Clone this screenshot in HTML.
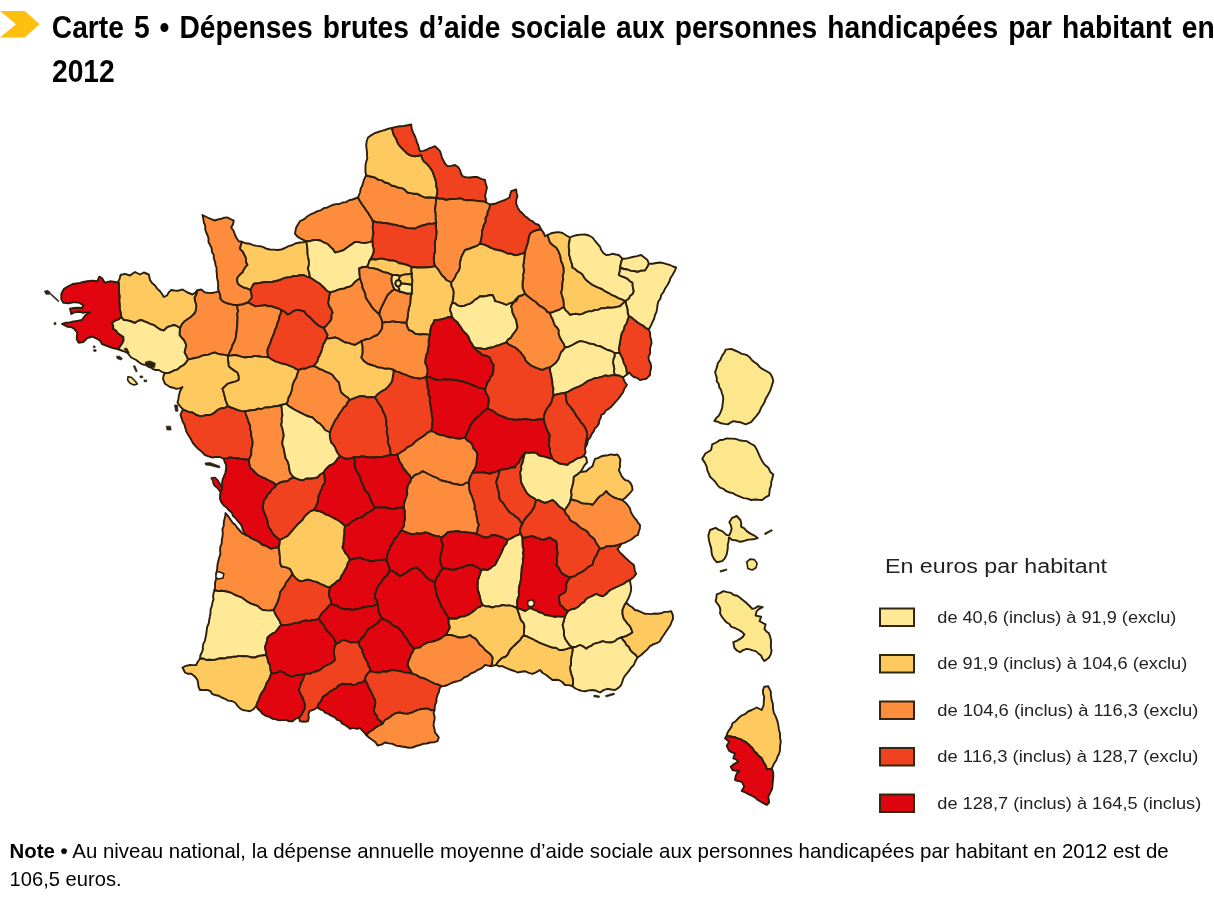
<!DOCTYPE html>
<html lang="fr"><head><meta charset="utf-8"><title>Carte 5</title>
<style>
html,body{margin:0;padding:0;background:#fff;}
body{width:1214px;height:900px;overflow:hidden;font-family:"Liberation Sans",sans-serif;}
svg{display:block;}
.t{font-family:"Liberation Sans",sans-serif;font-weight:bold;font-size:31px;fill:#000;word-spacing:2.4px;}
.n{font-family:"Liberation Sans",sans-serif;font-size:20.4px;fill:#000;}
.lg{font-family:"Liberation Sans",sans-serif;font-size:16.3px;fill:#222;}
.lt{font-family:"Liberation Sans",sans-serif;font-size:19.5px;fill:#222;}
</style></head><body>
<svg width="1214" height="900" viewBox="0 0 1214 900">
<rect width="1214" height="900" fill="#fff"/>
<polygon points="0,11 24.7,11 39.5,24.2 24.7,37.5 0,37.5 16,24.2" fill="#fdc010"/>
<text class="t" transform="translate(51.8,38.3) scale(0.91,1)">Carte 5 • Dépenses brutes d’aide sociale aux personnes handicapées par habitant en</text>
<text class="t" transform="translate(52,82) scale(0.91,1)">2012</text>
<text class="n" x="9.6" y="857.5" textLength="1159" lengthAdjust="spacingAndGlyphs"><tspan font-weight="bold">Note •</tspan> Au niveau national, la dépense annuelle moyenne d’aide sociale aux personnes handicapées par habitant en 2012 est de</text>
<text class="n" x="9.6" y="886" textLength="112" lengthAdjust="spacingAndGlyphs">106,5 euros.</text>
<g id="map" stroke="#2a1f0c" stroke-width="1.9" stroke-linejoin="round">
<path d="M218.8,291.2 215.6,292.2 212.5,293.0 208.7,292.9 205.0,292.5 201.2,289.5 197.0,290.5 196.4,294.2 194.5,297.5 195.0,301.3 196.2,305.0 196.1,308.8 195.0,312.5 192.6,315.1 190.0,317.5 187.2,319.2 184.5,321.2 181.7,324.3 180.0,328.0 179.7,331.5 179.5,335.0 181.5,337.6 183.8,340.0 185.1,342.7 186.2,345.5 185.2,349.0 184.5,352.5 186.4,355.9 188.0,359.5 191.5,358.8 195.0,358.0 198.5,357.4 201.6,355.8 205.0,355.0 208.5,354.7 211.7,353.4 215.0,352.5 218.0,353.9 221.2,354.5 224.7,354.9 228.0,355.8 229.7,352.3 231.5,348.8 232.5,345.0 234.3,341.9 235.6,338.6 236.2,335.0 236.5,332.0 236.9,329.0 237.2,326.0 237.3,323.0 237.5,320.0 237.7,317.0 237.1,314.0 238.2,311.0 237.3,308.0 237.5,305.0 233.6,304.9 230.0,303.9 226.2,303.0 223.0,301.4 220.5,298.8 220.2,294.9Z" fill="#fd8d3c"/>
<path d="M197.0,290.5 195.1,292.9 192.5,294.5 187.5,292.5 182.5,289.5 177.5,290.8 174.4,290.5 171.2,290.0 168.7,292.4 167.0,295.5 163.8,297.0 162.0,294.0 160.0,291.2 157.2,288.6 155.0,285.5 152.1,283.1 150.0,280.0 148.8,274.5 143.8,272.5 140.0,274.5 135.0,272.0 132.4,273.7 130.0,275.5 125.0,273.8 120.5,275.0 119.6,278.9 117.8,282.5 118.7,282.7 119.0,286.3 119.1,290.0 119.1,293.4 119.6,296.7 119.2,300.7 119.6,304.7 119.7,308.7 120.7,312.7 121.3,317.2 121.4,317.3 123.8,320.0 126.9,320.4 130.0,321.0 135.0,323.0 137.9,321.0 141.2,320.0 144.3,321.3 147.5,322.5 150.5,324.2 153.8,325.0 156.8,327.3 160.0,329.5 163.8,330.5 167.5,327.0 170.7,326.1 173.8,325.0 177.0,326.2 180.0,328.0 181.7,324.3 184.5,321.2 187.2,319.2 190.0,317.5 192.6,315.1 195.0,312.5 196.1,308.8 196.2,305.0 195.0,301.3 194.5,297.5 196.4,294.2Z" fill="#feca60"/>
<path d="M118.7,282.7 117.8,282.5 115.3,282.0 110.0,281.3 104.7,282.7 102.0,278.0 99.3,276.7 97.3,281.3 92.7,280.7 87.3,281.3 83.3,282.0 78.0,283.3 72.7,284.0 68.7,286.0 64.0,288.7 61.3,294.0 61.3,299.3 63.3,302.7 68.7,303.3 74.0,302.0 79.3,302.7 83.3,305.3 82.0,308.0 78.0,307.7 74.0,308.0 70.0,308.7 71.3,314.0 75.3,312.0 79.4,311.8 83.3,312.7 86.7,312.1 90.0,312.7 87.1,314.0 84.7,316.0 82.0,320.0 78.7,320.6 75.3,321.3 72.0,321.8 68.7,322.7 65.2,322.8 62.0,324.0 67.3,326.7 70.9,327.0 74.0,328.7 77.3,332.7 76.9,336.0 76.7,339.3 78.7,342.7 83.3,342.0 87.3,338.0 92.7,336.7 98.0,339.3 100.5,341.3 102.0,344.0 107.3,346.0 112.7,348.0 118.3,349.3 118.3,349.3 120.4,346.0 122.2,343.5 123.6,340.7 123.3,336.7 120.6,335.1 118.0,333.3 116.0,330.6 113.3,328.7 113.2,325.5 112.0,322.7 115.3,320.7 118.6,319.4 121.3,317.3 121.3,317.2 120.7,312.7 119.7,308.7 119.6,304.7 119.2,300.7 119.6,296.7 119.1,293.4 119.1,290.0 119.0,286.3Z" fill="#e0050f"/>
<path d="M118.3,349.3 118.8,349.5 123.0,351.0 127.5,353.0 131.2,357.5 136.2,360.0 138.7,362.0 141.2,363.8 144.3,364.8 147.5,365.0 150.2,366.6 152.5,368.8 155.5,370.0 158.8,370.0 161.7,371.8 165.0,373.0 168.2,373.1 171.2,372.0 174.2,370.4 177.5,369.5 180.4,366.9 183.8,365.0 186.2,362.5 188.0,359.5 186.4,355.9 184.5,352.5 185.2,349.0 186.2,345.5 185.1,342.7 183.8,340.0 181.5,337.6 179.5,335.0 179.7,331.5 180.0,328.0 177.0,326.2 173.8,325.0 170.7,326.1 167.5,327.0 163.8,330.5 160.0,329.5 156.8,327.3 153.8,325.0 150.5,324.2 147.5,322.5 144.3,321.3 141.2,320.0 137.9,321.0 135.0,323.0 130.0,321.0 126.9,320.4 123.8,320.0 121.4,317.3 121.3,317.3 118.6,319.4 115.3,320.7 112.0,322.7 113.2,325.5 113.3,328.7 116.0,330.6 118.0,333.3 120.6,335.1 123.3,336.7 123.6,340.7 122.2,343.5 120.4,346.0Z" fill="#ffe996"/>
<path d="M165.0,373.0 163.5,375.7 163.0,378.8 165.0,383.8 170.0,387.0 173.2,387.7 176.2,388.8 179.5,388.4 182.5,387.0 180.0,391.2 178.8,396.2 178.3,399.4 177.5,402.5 180.0,406.2 183.0,409.5 186.0,410.9 189.2,412.1 192.5,412.5 196.0,414.9 200.0,416.2 203.3,415.9 206.6,415.0 210.0,415.0 212.8,413.8 215.3,412.1 217.5,410.0 220.9,408.4 224.7,408.0 228.0,406.2 226.9,403.4 225.7,400.5 225.0,397.5 224.2,394.6 223.5,391.6 222.5,388.8 225.1,386.3 227.5,383.8 231.3,382.6 235.1,381.6 238.8,380.0 238.8,376.1 237.5,372.5 234.5,370.6 231.5,368.5 228.8,366.2 228.6,362.7 227.9,359.3 228.0,355.8 224.7,354.9 221.2,354.5 218.0,353.9 215.0,352.5 211.7,353.4 208.5,354.7 205.0,355.0 201.6,355.8 198.5,357.4 195.0,358.0 191.5,358.8 188.0,359.5 186.2,362.5 183.8,365.0 180.4,366.9 177.5,369.5 174.2,370.4 171.2,372.0 168.2,373.1Z" fill="#feca60"/>
<path d="M183.0,409.5 181.6,412.2 180.5,415.0 181.6,418.1 182.5,421.2 184.5,424.8 185.5,428.8 186.5,431.9 188.1,434.8 190.0,437.5 191.5,440.3 192.9,443.1 195.0,445.5 197.9,448.6 201.2,451.2 205.0,455.0 208.7,456.4 212.5,457.5 216.2,456.9 220.0,457.0 223.8,458.8 226.9,458.4 230.0,457.5 233.3,458.0 236.7,458.3 240.0,458.8 244.4,459.2 248.8,460.0 251.2,455.0 251.3,451.6 251.6,448.3 252.5,445.0 252.7,441.8 252.1,438.7 251.2,435.7 251.2,432.5 250.2,429.2 250.2,425.7 248.8,422.5 247.6,418.7 246.2,415.0 245.0,411.2 241.2,410.9 237.5,410.0 234.4,408.7 231.2,407.5 228.0,406.2 224.7,408.0 220.9,408.4 217.5,410.0 215.3,412.1 212.8,413.8 210.0,415.0 206.6,415.0 203.3,415.9 200.0,416.2 196.0,414.9 192.5,412.5 189.2,412.1 186.0,410.9Z" fill="#f0421f"/>
<path d="M242.0,241.8 238.8,241.2 236.7,238.3 235.0,235.0 233.7,231.0 231.2,227.5 233.0,224.2 233.8,220.5 230.6,219.1 227.5,217.5 224.3,217.6 221.2,218.8 218.1,219.4 215.0,220.5 211.2,219.2 207.5,217.5 202.5,215.0 203.3,218.7 203.8,222.5 205.2,225.7 205.2,229.2 206.2,232.5 207.6,235.5 208.5,238.6 208.5,242.1 210.0,245.0 211.6,248.2 211.9,251.9 213.8,255.0 213.8,258.4 215.0,261.6 215.5,265.0 216.6,268.0 216.5,271.2 216.9,274.3 217.0,277.5 217.8,281.2 218.2,285.0 218.0,288.8 218.8,291.2 220.2,294.9 220.5,298.8 223.0,301.4 226.2,303.0 230.0,303.9 233.6,304.9 237.5,305.0 242.5,304.5 248.0,302.5 250.0,300.0 252.0,297.5 251.5,293.7 250.5,290.0 247.3,288.4 243.8,287.5 240.7,285.9 238.0,283.8 237.1,280.7 237.5,277.5 239.8,274.8 242.5,272.5 243.8,269.8 245.4,267.2 247.5,265.0 246.0,261.8 246.0,258.2 244.5,255.0 242.7,251.5 240.0,248.8 240.8,245.2Z" fill="#fd8d3c"/>
<path d="M306.2,241.2 303.2,242.4 300.0,242.5 296.1,243.2 292.5,245.0 288.6,246.1 285.0,248.0 281.4,249.5 277.5,250.0 273.8,249.6 270.0,249.5 266.5,248.8 263.4,247.1 260.0,246.2 256.6,245.9 253.2,245.1 250.0,243.8 245.9,243.3 242.0,241.8 240.8,245.2 240.0,248.8 242.7,251.5 244.5,255.0 246.0,258.2 246.0,261.8 247.5,265.0 245.4,267.2 243.8,269.8 242.5,272.5 239.8,274.8 237.5,277.5 237.1,280.7 238.0,283.8 240.7,285.9 243.8,287.5 247.3,288.4 250.5,290.0 252.1,286.9 253.8,283.8 258.2,283.3 262.5,282.5 265.6,282.0 268.8,282.1 271.9,282.0 275.0,281.2 278.2,280.5 281.3,279.5 284.3,278.0 287.5,277.5 290.7,277.1 293.7,276.0 297.0,276.1 300.0,275.0 303.5,275.2 306.7,276.6 310.0,277.5 309.3,273.1 308.0,268.8 309.0,264.4 308.8,260.0 308.0,256.7 307.5,253.4 307.5,250.0 307.1,245.6Z" fill="#feca60"/>
<path d="M358.0,197.5 352.5,199.5 349.1,200.2 346.0,202.1 342.5,202.5 339.5,204.0 336.2,204.1 333.0,204.8 330.0,206.2 326.9,207.6 323.6,208.3 320.7,210.3 317.5,211.2 314.2,212.9 310.7,214.3 307.5,216.2 305.3,218.4 302.7,219.9 300.0,221.2 298.1,224.3 296.2,227.5 295.5,230.6 295.0,233.8 298.0,237.0 301.2,238.8 305.9,241.1 306.2,241.1 310.0,241.2 313.7,240.0 317.5,240.0 321.0,240.7 324.1,242.7 327.5,243.8 330.1,246.6 332.9,249.2 335.0,252.5 338.0,251.9 340.9,251.1 343.8,250.0 346.5,247.9 349.3,245.9 352.2,244.1 355.0,242.0 358.4,242.1 361.6,242.9 365.0,243.0 368.8,242.4 372.5,241.2 372.6,237.5 373.5,233.8 373.0,230.0 372.7,226.8 373.3,223.6 372.5,220.5 371.2,217.7 369.5,215.2 368.0,212.5 366.0,210.1 364.4,207.4 362.5,205.0 360.1,201.3Z" fill="#fd8d3c"/>
<path d="M366.2,175.5 365.0,177.5 363.5,181.2 362.5,185.0 360.7,188.6 360.0,192.5 358.0,197.5 360.1,201.3 362.5,205.0 364.4,207.4 366.0,210.1 368.0,212.5 369.5,215.2 371.2,217.7 372.5,220.5 376.1,222.2 380.0,222.5 383.1,223.0 386.3,223.2 389.4,223.8 392.5,224.5 395.7,224.9 398.8,225.9 402.0,226.3 405.0,227.5 408.3,228.4 411.7,228.4 415.0,228.8 418.1,227.0 421.5,225.8 425.0,225.0 428.6,223.6 432.6,223.9 436.2,222.5 435.7,219.4 435.8,216.2 435.7,213.1 435.0,210.0 435.4,207.0 435.8,204.0 436.1,201.0 436.2,198.0 432.5,197.5 428.8,197.3 425.0,197.5 421.2,195.8 417.5,193.8 414.1,193.8 410.8,193.1 407.5,192.5 403.8,188.8 400.8,187.9 397.8,187.5 395.0,186.2 391.5,185.5 388.5,183.3 385.0,182.5 381.9,180.4 378.1,179.6 375.0,177.5 370.6,176.5Z" fill="#fd8d3c"/>
<path d="M392.0,128.0 388.4,128.7 385.0,130.0 381.6,130.9 378.3,132.0 375.0,133.0 371.4,135.1 368.0,137.5 366.7,141.2 366.2,145.0 366.5,148.3 366.9,151.7 367.0,155.0 367.3,158.2 366.4,161.3 365.6,164.3 365.5,167.5 365.4,171.5 366.2,175.5 370.6,176.5 375.0,177.5 378.1,179.6 381.9,180.4 385.0,182.5 388.5,183.3 391.5,185.5 395.0,186.2 397.8,187.5 400.8,187.9 403.8,188.8 407.5,192.5 410.8,193.1 414.1,193.8 417.5,193.8 421.2,195.8 425.0,197.5 428.8,197.3 432.5,197.5 436.2,198.0 437.1,194.0 437.5,190.0 436.2,186.4 436.2,182.5 435.1,178.7 433.8,175.0 432.3,171.0 430.0,167.5 427.2,164.1 423.8,161.2 422.1,158.3 421.2,155.0 418.1,155.7 415.0,156.2 411.1,155.6 407.5,153.8 405.0,151.3 402.5,148.8 399.7,145.9 397.5,142.5 396.1,138.5 393.8,135.0 392.8,131.5Z" fill="#feca60"/>
<path d="M486.2,202.5 486.1,199.3 485.0,196.2 486.0,191.9 487.0,187.5 485.7,183.8 485.0,180.0 481.1,178.9 477.5,177.0 473.7,177.0 470.0,177.5 466.2,177.4 462.5,176.2 460.9,173.3 460.0,170.0 458.0,167.0 455.0,165.0 451.3,165.9 447.5,166.2 445.3,164.0 443.8,161.2 442.0,158.1 441.2,154.6 440.0,151.2 437.6,148.6 435.0,146.2 432.0,147.4 429.0,148.4 426.2,150.0 423.2,150.9 420.0,151.2 418.9,148.4 418.3,145.3 417.0,142.5 416.0,139.0 414.7,135.7 413.0,132.5 411.7,128.6 411.2,124.5 407.5,125.3 403.8,126.0 400.0,126.2 396.0,126.9 392.0,128.0 392.8,131.5 393.8,135.0 396.1,138.5 397.5,142.5 399.7,145.9 402.5,148.8 405.0,151.3 407.5,153.8 411.1,155.6 415.0,156.2 418.1,155.7 421.2,155.0 422.1,158.3 423.8,161.2 427.2,164.1 430.0,167.5 432.3,171.0 433.8,175.0 435.1,178.7 436.2,182.5 436.2,186.4 437.5,190.0 437.1,194.0 436.2,198.0 439.6,198.7 443.0,198.8 446.2,200.0 449.9,199.1 453.7,199.0 457.5,198.8 460.7,198.4 463.7,199.9 466.8,200.3 470.0,200.0 473.3,200.4 476.7,200.9 480.0,201.2 483.2,201.4Z" fill="#f0421f"/>
<path d="M486.2,202.5 483.2,201.4 480.0,201.2 476.7,200.9 473.3,200.4 470.0,200.0 466.8,200.3 463.7,199.9 460.7,198.4 457.5,198.8 453.7,199.0 449.9,199.1 446.2,200.0 443.0,198.8 439.6,198.7 436.2,198.0 436.1,201.0 435.8,204.0 435.4,207.0 435.0,210.0 435.7,213.1 435.8,216.2 435.7,219.4 436.2,222.5 435.8,225.6 436.1,228.8 436.5,231.9 436.2,235.0 436.1,238.1 435.0,241.2 434.8,244.3 435.0,247.5 435.1,250.9 434.2,254.2 433.8,257.5 433.9,261.9 435.0,266.2 437.9,269.1 440.0,272.5 441.8,275.3 444.3,277.4 446.2,280.0 451.3,282.5 453.3,280.1 455.0,277.5 456.4,274.0 458.7,271.0 460.0,267.5 459.8,264.1 460.5,260.8 461.2,257.5 463.0,253.7 465.0,250.0 468.8,249.0 472.5,247.5 476.5,246.2 480.0,243.8 481.2,239.4 482.0,235.0 481.9,231.5 483.1,228.3 483.8,225.0 485.7,221.9 485.6,218.1 487.5,215.0 487.8,211.4 489.6,208.1 490.0,204.5Z" fill="#fd8d3c"/>
<path d="M436.2,222.5 432.6,223.9 428.6,223.6 425.0,225.0 421.5,225.8 418.1,227.0 415.0,228.8 411.7,228.4 408.3,228.4 405.0,227.5 402.0,226.3 398.8,225.9 395.7,224.9 392.5,224.5 389.4,223.8 386.3,223.2 383.1,223.0 380.0,222.5 376.1,222.2 372.5,220.5 373.3,223.6 372.7,226.8 373.0,230.0 373.5,233.8 372.6,237.5 372.5,241.2 372.7,245.7 373.8,250.0 373.2,253.2 372.0,256.2 369.5,260.5 372.5,259.2 376.1,259.7 379.7,258.7 383.2,258.8 386.3,259.7 389.3,260.5 392.5,260.5 396.0,261.2 399.0,263.2 402.5,263.8 405.7,264.5 408.7,265.7 411.7,267.2 411.7,267.2 415.1,267.2 418.4,267.7 421.7,267.4 425.0,267.5 428.3,267.2 431.7,267.0 435.0,266.2 433.9,261.9 433.8,257.5 434.2,254.2 435.1,250.9 435.0,247.5 434.8,244.3 435.0,241.2 436.1,238.1 436.2,235.0 436.5,231.9 436.1,228.8 435.8,225.6Z" fill="#f0421f"/>
<path d="M372.5,241.2 368.8,242.4 365.0,243.0 361.6,242.9 358.4,242.1 355.0,242.0 352.2,244.1 349.3,245.9 346.5,247.9 343.8,250.0 340.9,251.1 338.0,251.9 335.0,252.5 332.9,249.2 330.1,246.6 327.5,243.8 324.1,242.7 321.0,240.7 317.5,240.0 313.7,240.0 310.0,241.2 306.2,241.1 306.2,241.2 307.1,245.6 307.5,250.0 307.5,253.4 308.0,256.7 308.8,260.0 309.0,264.4 308.0,268.8 309.3,273.1 310.0,277.5 313.8,280.0 316.8,282.0 320.0,283.8 322.4,286.3 325.0,288.8 327.2,291.1 330.0,292.5 335.0,291.2 337.8,289.9 340.7,289.0 343.8,288.8 346.6,287.3 349.8,286.7 352.5,285.0 354.6,282.3 357.2,280.2 360.0,278.3 360.0,278.3 359.6,274.2 359.2,268.5 363.0,267.0 367.1,266.7 368.6,263.7 369.5,260.5 372.0,256.2 373.2,253.2 373.8,250.0 372.7,245.7Z" fill="#ffe996"/>
<path d="M411.7,267.2 408.7,265.7 405.7,264.5 402.5,263.8 399.0,263.2 396.0,261.2 392.5,260.5 389.3,260.5 386.3,259.7 383.2,258.8 379.7,258.7 376.1,259.7 372.5,259.2 369.5,260.5 368.6,263.7 367.1,266.7 369.2,267.9 373.4,268.4 377.5,269.3 380.4,270.7 383.4,272.1 386.7,272.7 389.6,273.8 392.5,275.0 396.3,275.0 400.0,276.0 400.0,276.0 404.0,274.6 408.3,274.3 411.8,273.3 411.3,270.3 411.7,267.2Z" fill="#feca60"/>
<path d="M411.7,267.2 411.7,267.2 411.3,270.3 411.8,273.3 411.5,276.7 412.3,280.0 412.1,283.3 412.0,285.0 411.9,289.2 411.8,293.3 410.6,296.6 410.4,300.0 410.1,304.3 408.8,308.3 408.1,312.5 407.7,316.7 407.2,319.6 406.2,322.5 407.1,326.4 408.8,330.0 412.2,331.3 415.0,333.8 420.0,334.5 423.4,334.3 426.7,334.4 430.0,335.0 430.4,330.6 431.2,326.2 433.3,323.3 434.5,320.0 437.6,320.0 440.7,319.5 443.8,318.8 447.7,317.3 452.0,317.0 451.4,313.4 450.0,310.0 450.9,306.1 452.5,302.5 453.1,299.2 453.5,295.9 453.8,292.5 453.2,289.1 451.5,286.0 451.3,282.5 446.2,280.0 444.3,277.4 441.8,275.3 440.0,272.5 437.9,269.1 435.0,266.2 431.7,267.0 428.3,267.2 425.0,267.5 421.7,267.4 418.4,267.7 415.1,267.2Z" fill="#feca60"/>
<path d="M360.0,278.3 357.2,280.2 354.6,282.3 352.5,285.0 349.8,286.7 346.6,287.3 343.8,288.8 340.7,289.0 337.8,289.9 335.0,291.2 330.0,292.5 329.2,295.8 328.7,299.2 328.0,302.5 329.0,306.1 331.1,309.1 332.5,312.5 331.2,315.3 331.4,318.5 330.0,321.2 328.0,323.5 326.0,325.9 323.8,328.0 325.5,331.5 327.5,335.0 326.2,338.8 330.6,338.3 335.0,337.5 338.6,338.6 341.8,340.6 345.0,342.5 348.4,342.9 351.7,344.1 355.0,345.0 358.2,343.2 361.2,341.2 364.1,340.1 366.9,339.0 370.0,338.8 373.6,336.5 377.5,335.0 379.9,332.0 382.0,328.8 382.3,325.6 382.5,322.5 381.2,318.3 379.2,314.2 376.6,311.7 373.9,309.4 371.7,306.7 369.9,303.5 367.7,300.6 365.8,297.5 365.4,293.9 364.0,290.7 362.5,287.5 362.2,284.3 361.0,281.3 360.0,278.3Z" fill="#fd8d3c"/>
<path d="M330.0,292.5 327.2,291.1 325.0,288.8 322.4,286.3 320.0,283.8 316.8,282.0 313.8,280.0 310.0,277.5 306.7,276.6 303.5,275.2 300.0,275.0 297.0,276.1 293.7,276.0 290.7,277.1 287.5,277.5 284.3,278.0 281.3,279.5 278.2,280.5 275.0,281.2 271.9,282.0 268.8,282.1 265.6,282.0 262.5,282.5 258.2,283.3 253.8,283.8 252.1,286.9 250.5,290.0 251.5,293.7 252.0,297.5 250.0,300.0 248.0,302.5 251.5,304.3 255.0,306.2 258.3,305.9 261.7,305.8 265.0,305.0 268.2,306.3 271.8,306.3 275.0,307.5 278.2,308.5 281.2,310.0 284.7,311.8 287.5,314.5 290.6,313.3 293.2,311.3 296.2,310.0 300.0,310.4 303.8,311.2 306.5,314.7 310.0,317.5 313.0,320.7 316.2,323.8 319.7,326.4 323.8,328.0 326.0,325.9 328.0,323.5 330.0,321.2 331.4,318.5 331.2,315.3 332.5,312.5 331.1,309.1 329.0,306.1 328.0,302.5 328.7,299.2 329.2,295.8Z" fill="#f0421f"/>
<path d="M248.0,302.5 242.5,304.5 237.5,305.0 237.3,308.0 238.2,311.0 237.1,314.0 237.7,317.0 237.5,320.0 237.3,323.0 237.2,326.0 236.9,329.0 236.5,332.0 236.2,335.0 235.6,338.6 234.3,341.9 232.5,345.0 231.5,348.8 229.7,352.3 228.0,355.8 231.5,355.5 235.0,355.0 238.4,355.7 241.6,356.9 245.0,357.5 248.1,357.0 251.3,357.1 254.3,355.9 257.5,356.2 261.2,356.7 265.0,356.9 268.8,357.5 267.6,353.8 267.5,350.0 268.7,346.7 270.3,343.4 271.2,340.0 272.7,336.7 274.0,333.4 275.0,330.0 276.5,326.8 277.4,323.3 278.8,320.0 279.4,316.6 280.8,313.4 281.2,310.0 278.2,308.5 275.0,307.5 271.8,306.3 268.2,306.3 265.0,305.0 261.7,305.8 258.3,305.9 255.0,306.2 251.5,304.3Z" fill="#fd8d3c"/>
<path d="M541.2,229.5 538.8,225.0 535.3,223.7 532.5,221.2 529.7,220.0 527.5,217.9 525.0,216.2 522.7,213.5 520.0,211.2 517.7,207.7 516.2,203.8 516.2,199.9 517.5,196.2 516.6,192.9 516.2,189.5 511.2,191.2 510.2,194.3 509.5,197.5 505.0,200.0 501.6,201.1 498.3,202.3 495.0,203.8 490.0,204.5 489.6,208.1 487.8,211.4 487.5,215.0 485.6,218.1 485.7,221.9 483.8,225.0 483.1,228.3 481.9,231.5 482.0,235.0 481.2,239.4 480.0,243.8 483.9,244.6 487.5,246.2 490.7,247.9 494.0,249.2 497.5,250.0 501.0,250.7 504.4,252.0 507.5,253.8 510.9,253.6 514.1,255.2 517.5,255.0 521.3,253.8 525.0,252.5 525.9,249.1 527.0,245.8 528.0,242.5 528.8,238.1 530.0,233.8 533.4,231.3 537.5,230.0Z" fill="#f0421f"/>
<path d="M547.5,235.0 545.0,236.2 543.5,232.6 541.2,229.5 537.5,230.0 533.4,231.3 530.0,233.8 528.8,238.1 528.0,242.5 527.0,245.8 525.9,249.1 525.0,252.5 524.4,255.8 524.2,259.2 523.8,262.5 523.1,265.6 523.8,268.8 523.8,271.9 523.0,275.0 523.3,278.4 522.6,281.7 522.5,285.0 522.7,288.1 523.8,290.9 525.0,293.8 527.4,296.0 529.9,298.0 532.5,300.0 535.3,301.7 537.6,304.0 540.0,306.2 542.8,307.4 545.2,309.3 547.1,311.9 550.0,313.0 553.0,312.2 555.8,310.9 558.8,310.0 563.8,307.0 563.8,302.5 563.2,299.1 562.1,295.8 561.2,292.5 562.1,289.2 562.3,285.9 562.5,282.5 563.2,279.2 562.8,275.8 563.8,272.5 563.7,268.0 562.5,263.8 561.0,261.0 560.7,258.0 560.0,255.0 558.4,251.1 556.2,247.5 553.0,245.2 550.0,242.5 548.8,238.7Z" fill="#fd8d3c"/>
<path d="M570.0,237.5 567.5,236.2 562.5,233.0 558.8,232.1 555.0,232.5 551.1,233.3 547.5,235.0 548.8,238.7 550.0,242.5 553.0,245.2 556.2,247.5 558.4,251.1 560.0,255.0 560.7,258.0 561.0,261.0 562.5,263.8 563.7,268.0 563.8,272.5 562.8,275.8 563.2,279.2 562.5,282.5 562.3,285.9 562.1,289.2 561.2,292.5 562.1,295.8 563.2,299.1 563.8,302.5 563.8,307.0 565.3,310.1 567.9,312.4 570.0,315.0 573.1,314.1 576.2,313.8 579.4,314.6 582.5,313.8 585.5,312.3 588.6,311.4 592.0,311.2 595.0,310.0 598.2,309.9 601.1,308.2 604.4,308.4 607.5,307.5 610.7,307.7 613.8,307.5 616.9,306.9 620.0,306.2 622.7,303.6 625.5,301.0 622.0,299.4 618.4,298.1 615.0,296.2 611.5,294.8 608.4,292.8 605.0,291.2 602.0,289.0 598.5,287.7 595.0,286.2 591.9,284.4 589.0,282.3 586.2,280.0 584.2,277.5 582.6,274.6 580.0,272.5 577.3,271.1 575.1,269.0 572.5,267.5 572.0,264.1 570.8,260.8 570.0,257.5 569.0,254.2 569.3,250.8 568.8,247.5 568.9,244.1 569.6,240.8Z" fill="#feca60"/>
<path d="M622.5,258.8 618.8,255.0 615.6,254.5 612.5,253.8 609.4,254.7 606.2,255.0 603.3,252.9 601.2,250.0 599.9,246.5 597.5,243.8 594.9,240.7 592.5,237.5 588.9,235.5 585.0,234.5 581.2,234.6 577.5,235.0 573.6,235.9 570.0,237.5 569.6,240.8 568.9,244.1 568.8,247.5 569.3,250.8 569.0,254.2 570.0,257.5 570.8,260.8 572.0,264.1 572.5,267.5 575.1,269.0 577.3,271.1 580.0,272.5 582.6,274.6 584.2,277.5 586.2,280.0 589.0,282.3 591.9,284.4 595.0,286.2 598.5,287.7 602.0,289.0 605.0,291.2 608.4,292.8 611.5,294.8 615.0,296.2 618.4,298.1 622.0,299.4 625.5,301.0 628.8,298.8 630.1,296.1 632.7,294.1 633.8,291.2 632.8,286.9 632.5,282.5 629.8,281.2 627.7,278.9 625.0,277.5 621.8,276.4 618.8,275.0 619.8,271.3 620.0,267.5 620.7,264.5 621.3,261.6Z" fill="#ffe996"/>
<path d="M648.8,263.8 647.5,260.0 644.3,257.6 641.2,255.0 636.9,256.1 632.5,257.0 629.2,257.8 625.9,258.6 622.5,258.8 621.3,261.6 620.7,264.5 620.0,267.5 623.6,269.0 627.5,269.5 630.7,270.9 634.2,271.0 637.5,272.0 641.1,270.7 645.0,270.5 647.2,267.3Z" fill="#ffe996"/>
<path d="M648.8,329.5 651.2,325.0 652.7,321.7 654.2,318.5 655.0,315.0 656.5,311.8 657.1,308.4 657.5,305.0 658.3,301.5 660.5,298.5 661.2,295.0 663.6,291.9 665.3,288.2 667.5,285.0 669.3,281.7 670.5,278.1 672.5,275.0 674.6,271.3 676.2,267.5 673.0,266.5 670.0,265.0 666.7,264.2 663.4,263.1 660.0,262.5 656.3,263.0 652.5,263.7 648.8,263.8 647.2,267.3 645.0,270.5 641.1,270.7 637.5,272.0 634.2,271.0 630.7,270.9 627.5,269.5 623.6,269.0 620.0,267.5 619.8,271.3 618.8,275.0 621.8,276.4 625.0,277.5 627.7,278.9 629.8,281.2 632.5,282.5 632.8,286.9 633.8,291.2 632.7,294.1 630.1,296.1 628.8,298.8 625.5,301.0 625.9,304.1 627.0,307.0 627.5,310.0 627.7,313.2 628.8,316.2 632.0,317.9 634.7,320.2 637.5,322.5 640.3,324.3 643.2,325.8 645.7,328.2Z" fill="#ffe996"/>
<path d="M650.0,375.0 650.3,371.2 651.2,367.5 650.6,363.5 648.8,360.0 648.5,356.6 650.2,353.4 650.0,350.0 650.4,346.7 651.5,343.4 651.2,340.0 650.2,336.6 650.1,332.9 648.8,329.5 645.7,328.2 643.2,325.8 640.3,324.3 637.5,322.5 634.7,320.2 632.0,317.9 628.8,316.2 627.6,319.7 626.6,323.2 624.5,326.2 623.6,330.1 621.5,333.6 620.8,337.5 620.1,341.3 619.5,345.0 618.8,348.8 619.5,353.0 621.4,356.4 623.0,360.0 623.6,363.1 625.3,365.8 626.2,368.8 627.0,374.4 629.5,372.5 631.3,375.0 633.8,377.0 637.2,377.9 640.0,380.0 643.1,379.4 646.2,378.8Z" fill="#f0421f"/>
<path d="M525.0,252.5 521.3,253.8 517.5,255.0 514.1,255.2 510.9,253.6 507.5,253.8 504.4,252.0 501.0,250.7 497.5,250.0 494.0,249.2 490.7,247.9 487.5,246.2 483.9,244.6 480.0,243.8 476.5,246.2 472.5,247.5 468.8,249.0 465.0,250.0 463.0,253.7 461.2,257.5 460.5,260.8 459.8,264.1 460.0,267.5 458.7,271.0 456.4,274.0 455.0,277.5 453.3,280.1 451.3,282.5 451.5,286.0 453.2,289.1 453.8,292.5 453.5,295.9 453.1,299.2 452.5,302.5 455.4,303.7 458.1,305.6 461.2,306.2 464.3,305.9 467.1,304.6 470.0,303.8 472.6,302.1 474.8,299.8 477.6,298.3 480.0,296.2 483.2,296.5 486.3,296.0 489.4,295.3 492.5,295.0 494.1,298.0 495.0,301.2 498.9,302.2 502.6,303.4 506.2,305.0 509.8,303.3 513.7,302.2 515.0,300.0 518.8,296.2 522.1,295.5 525.0,293.8 523.8,290.9 522.7,288.1 522.5,285.0 522.6,281.7 523.3,278.4 523.0,275.0 523.8,271.9 523.8,268.8 523.1,265.6 523.8,262.5 524.2,259.2 524.4,255.8Z" fill="#feca60"/>
<path d="M513.7,302.2 509.8,303.3 506.2,305.0 502.6,303.4 498.9,302.2 495.0,301.2 494.1,298.0 492.5,295.0 489.4,295.3 486.3,296.0 483.2,296.5 480.0,296.2 477.6,298.3 474.8,299.8 472.6,302.1 470.0,303.8 467.1,304.6 464.3,305.9 461.2,306.2 458.1,305.6 455.4,303.7 452.5,302.5 450.9,306.1 450.0,310.0 451.4,313.4 452.0,317.0 454.4,320.1 457.5,322.5 459.1,325.0 460.9,327.5 462.5,330.0 464.5,332.5 467.0,334.7 468.8,337.5 469.8,341.1 472.1,344.1 473.8,347.5 478.1,348.1 482.5,348.8 485.9,349.0 489.2,347.8 492.5,347.5 495.7,346.0 499.2,345.1 502.5,343.8 506.3,342.5 507.9,339.6 510.9,337.9 512.5,335.0 514.4,332.6 516.2,330.2 517.5,327.5 516.8,323.8 516.2,320.0 514.2,316.4 512.5,312.5 512.1,309.3 511.2,306.2Z" fill="#ffe996"/>
<path d="M518.8,296.2 516.2,301.2 513.7,302.2 511.2,306.2 512.1,309.3 512.5,312.5 514.2,316.4 516.2,320.0 516.8,323.8 517.5,327.5 516.2,330.2 514.4,332.6 512.5,335.0 510.9,337.9 507.9,339.6 506.3,342.5 508.9,344.6 511.9,346.1 515.0,347.5 517.8,349.7 520.3,352.2 522.5,355.0 524.4,357.4 525.3,360.3 527.5,362.5 529.7,364.6 532.2,366.2 535.0,367.5 538.7,368.9 542.5,370.0 546.1,368.3 550.0,367.5 553.2,365.1 556.2,362.5 558.6,359.0 560.0,355.0 561.2,352.2 563.3,350.0 565.0,347.5 563.8,343.9 561.8,340.8 560.0,337.5 558.7,333.9 558.8,330.0 557.1,327.5 554.9,325.3 553.8,322.5 552.7,319.3 551.0,316.3 550.0,313.0 547.1,311.9 545.2,309.3 542.8,307.4 540.0,306.2 537.6,304.0 535.3,301.7 532.5,300.0 529.9,298.0 527.4,296.0 525.0,293.8 522.1,295.5Z" fill="#fd8d3c"/>
<path d="M473.8,347.5 472.1,344.1 469.8,341.1 468.8,337.5 467.0,334.7 464.5,332.5 462.5,330.0 460.9,327.5 459.1,325.0 457.5,322.5 454.4,320.1 452.0,317.0 447.7,317.3 443.8,318.8 440.7,319.5 437.6,320.0 434.5,320.0 433.3,323.3 431.2,326.2 430.4,330.6 430.0,335.0 428.9,338.3 428.6,341.6 428.8,345.0 427.9,348.3 427.7,351.8 426.2,355.0 425.5,358.7 425.0,362.5 426.6,366.1 427.5,370.0 427.2,373.6 426.2,377.0 430.2,377.4 433.7,379.0 437.5,380.0 440.6,379.9 443.7,379.4 446.9,379.6 450.0,379.5 453.1,380.0 456.3,379.8 459.3,381.1 462.5,381.2 465.6,382.6 468.9,383.3 471.9,385.0 475.0,386.2 478.2,387.7 481.9,388.2 485.0,390.0 486.3,386.3 487.5,382.5 489.5,380.3 490.4,377.2 492.5,375.0 493.4,371.7 493.5,368.4 493.8,365.0 491.4,361.5 490.0,357.5 486.4,355.7 482.5,355.0 479.7,352.4 476.4,350.3Z" fill="#e0050f"/>
<path d="M506.3,342.5 502.5,343.8 499.2,345.1 495.7,346.0 492.5,347.5 489.2,347.8 485.9,349.0 482.5,348.8 478.1,348.1 473.8,347.5 476.4,350.3 479.7,352.4 482.5,355.0 486.4,355.7 490.0,357.5 491.4,361.5 493.8,365.0 493.5,368.4 493.4,371.7 492.5,375.0 490.4,377.2 489.5,380.3 487.5,382.5 486.3,386.3 485.0,390.0 486.1,393.4 488.0,396.5 488.8,400.0 488.2,404.4 487.5,408.8 491.5,410.1 495.0,412.5 498.0,414.8 501.5,416.2 505.0,417.5 508.2,418.9 511.7,419.2 515.0,420.0 518.3,419.5 521.7,419.6 525.0,418.8 528.3,419.5 531.6,419.8 535.0,420.0 539.3,419.2 543.8,419.5 544.1,415.9 545.0,412.5 546.4,409.8 547.9,407.2 550.0,405.0 551.6,402.0 552.3,398.6 553.8,395.5 553.1,392.0 553.5,388.4 552.5,385.0 552.4,381.6 551.7,378.3 551.2,375.0 550.2,371.3 550.0,367.5 546.1,368.3 542.5,370.0 538.7,368.9 535.0,367.5 532.2,366.2 529.7,364.6 527.5,362.5 525.3,360.3 524.4,357.4 522.5,355.0 520.3,352.2 517.8,349.7 515.0,347.5 511.9,346.1 508.9,344.6Z" fill="#f0421f"/>
<path d="M563.8,307.0 558.8,310.0 555.8,310.9 553.0,312.2 550.0,313.0 551.0,316.3 552.7,319.3 553.8,322.5 554.9,325.3 557.1,327.5 558.8,330.0 558.7,333.9 560.0,337.5 561.8,340.8 563.8,343.9 565.0,347.5 568.9,346.7 572.5,345.0 576.1,342.9 580.0,341.2 583.5,341.6 586.8,342.6 590.0,343.8 593.5,344.1 596.6,345.6 600.0,346.2 603.7,348.2 607.5,350.0 611.2,351.0 614.5,353.0 619.5,353.0 618.8,348.8 619.5,345.0 620.1,341.3 620.8,337.5 621.5,333.6 623.6,330.1 624.5,326.2 626.6,323.2 627.6,319.7 628.8,316.2 627.7,313.2 627.5,310.0 627.0,307.0 625.9,304.1 625.5,301.0 622.7,303.6 620.0,306.2 616.9,306.9 613.8,307.5 610.7,307.7 607.5,307.5 604.4,308.4 601.1,308.2 598.2,309.9 595.0,310.0 592.0,311.2 588.6,311.4 585.5,312.3 582.5,313.8 579.4,314.6 576.2,313.8 573.1,314.1 570.0,315.0 567.9,312.4 565.3,310.1Z" fill="#ffe996"/>
<path d="M619.5,353.0 614.5,353.0 614.6,356.3 613.3,359.3 613.0,362.5 613.6,365.6 614.3,368.7 613.8,372.0 615.0,375.0 619.2,375.7 623.0,377.5 626.2,375.0 627.0,374.4 626.2,368.8 625.3,365.8 623.6,363.1 623.0,360.0 621.4,356.4Z" fill="#ffe996"/>
<path d="M615.0,375.0 613.8,372.0 614.3,368.7 613.6,365.6 613.0,362.5 613.3,359.3 614.6,356.3 614.5,353.0 611.2,351.0 607.5,350.0 603.7,348.2 600.0,346.2 596.6,345.6 593.5,344.1 590.0,343.8 586.8,342.6 583.5,341.6 580.0,341.2 576.1,342.9 572.5,345.0 568.9,346.7 565.0,347.5 563.3,350.0 561.2,352.2 560.0,355.0 558.6,359.0 556.2,362.5 553.2,365.1 550.0,367.5 550.2,371.3 551.2,375.0 551.7,378.3 552.4,381.6 552.5,385.0 553.5,388.4 553.1,392.0 553.8,395.5 557.4,394.2 561.2,393.4 565.0,393.0 568.4,391.6 571.7,389.7 575.0,388.0 578.5,386.8 581.9,385.2 585.0,383.0 588.1,380.8 591.6,379.6 595.0,378.0 598.5,377.7 601.8,376.9 605.0,375.5 608.4,376.0 611.7,375.4Z" fill="#ffe996"/>
<path d="M430.0,335.0 426.7,334.4 423.4,334.3 420.0,334.5 415.0,333.8 412.2,331.3 408.8,330.0 407.1,326.4 406.2,322.5 402.8,322.5 399.4,322.1 395.9,321.8 392.5,321.2 389.2,322.1 385.8,322.0 382.5,322.5 382.3,325.6 382.0,328.8 379.9,332.0 377.5,335.0 373.6,336.5 370.0,338.8 366.9,339.0 364.1,340.1 361.2,341.2 362.3,345.6 362.5,350.0 362.4,353.8 361.2,357.5 363.9,361.1 367.5,363.8 371.3,365.0 375.0,366.2 378.2,367.6 381.7,367.8 385.0,368.8 389.5,368.7 393.7,370.0 396.5,371.6 399.6,372.4 402.5,373.8 405.9,374.9 409.1,376.3 412.5,377.5 416.3,378.1 420.0,378.8 423.1,377.8 426.2,377.0 427.2,373.6 427.5,370.0 426.6,366.1 425.0,362.5 425.5,358.7 426.2,355.0 427.7,351.8 427.9,348.3 428.8,345.0 428.6,341.6 428.9,338.3Z" fill="#fd8d3c"/>
<path d="M323.8,328.0 319.7,326.4 316.2,323.8 313.0,320.7 310.0,317.5 306.5,314.7 303.8,311.2 300.0,310.4 296.2,310.0 293.2,311.3 290.6,313.3 287.5,314.5 284.7,311.8 281.2,310.0 280.8,313.4 279.4,316.6 278.8,320.0 277.4,323.3 276.5,326.8 275.0,330.0 274.0,333.4 272.7,336.7 271.2,340.0 270.3,343.4 268.7,346.7 267.5,350.0 267.6,353.8 268.8,357.5 272.5,360.0 275.7,361.7 279.1,362.7 282.5,363.8 286.4,364.5 290.0,366.2 293.1,367.1 295.7,369.1 298.7,370.0 301.8,368.8 305.0,368.8 307.9,367.7 310.7,366.6 313.7,366.2 315.7,363.8 317.5,361.2 318.3,358.0 320.0,355.0 321.5,351.3 322.5,347.5 323.3,344.4 325.1,341.7 326.2,338.8 327.5,335.0 325.5,331.5Z" fill="#f0421f"/>
<path d="M326.2,338.8 325.1,341.7 323.3,344.4 322.5,347.5 321.5,351.3 320.0,355.0 318.3,358.0 317.5,361.2 315.7,363.8 313.7,366.2 316.8,367.3 319.4,369.1 322.5,370.0 325.8,371.8 329.3,373.1 332.5,375.0 334.3,377.7 336.5,380.1 338.8,382.5 339.5,385.8 340.1,389.2 341.2,392.5 344.3,395.2 347.5,397.5 350.0,400.0 353.3,398.6 356.6,397.4 360.0,396.2 363.9,396.2 367.5,397.5 371.2,397.0 375.0,397.5 377.2,394.7 380.0,392.5 382.5,390.8 385.2,389.5 387.5,387.5 389.5,385.2 391.3,382.8 392.5,380.0 392.9,376.7 393.6,373.4 393.7,370.0 389.5,368.7 385.0,368.8 381.7,367.8 378.2,367.6 375.0,366.2 371.3,365.0 367.5,363.8 363.9,361.1 361.2,357.5 362.4,353.8 362.5,350.0 362.3,345.6 361.2,341.2 358.2,343.2 355.0,345.0 351.7,344.1 348.4,342.9 345.0,342.5 341.8,340.6 338.6,338.6 335.0,337.5 330.6,338.3Z" fill="#feca60"/>
<path d="M313.7,366.2 310.7,366.6 307.9,367.7 305.0,368.8 301.8,368.8 298.7,370.0 297.3,373.7 296.2,377.5 294.1,381.1 292.5,385.0 292.1,388.4 291.2,391.8 290.0,395.0 288.3,397.7 287.9,401.0 286.2,403.8 288.9,406.2 292.0,408.1 295.0,410.0 298.4,411.6 301.7,413.3 305.0,415.0 308.7,416.5 312.5,417.5 314.8,419.8 317.1,422.1 320.0,423.8 322.7,426.7 325.0,430.0 330.0,432.5 331.0,429.3 332.5,426.2 333.9,423.2 335.4,420.2 337.5,417.5 339.3,414.0 341.7,410.8 343.8,407.5 346.4,405.4 347.6,402.3 350.0,400.0 347.5,397.5 344.3,395.2 341.2,392.5 340.1,389.2 339.5,385.8 338.8,382.5 336.5,380.1 334.3,377.7 332.5,375.0 329.3,373.1 325.8,371.8 322.5,370.0 319.4,369.1 316.8,367.3Z" fill="#fd8d3c"/>
<path d="M298.7,370.0 295.7,369.1 293.1,367.1 290.0,366.2 286.4,364.5 282.5,363.8 279.1,362.7 275.7,361.7 272.5,360.0 268.8,357.5 265.0,356.9 261.2,356.7 257.5,356.2 254.3,355.9 251.3,357.1 248.1,357.0 245.0,357.5 241.6,356.9 238.4,355.7 235.0,355.0 231.5,355.5 228.0,355.8 227.9,359.3 228.6,362.7 228.8,366.2 231.5,368.5 234.5,370.6 237.5,372.5 238.8,376.1 238.8,380.0 235.1,381.6 231.3,382.6 227.5,383.8 225.1,386.3 222.5,388.8 223.5,391.6 224.2,394.6 225.0,397.5 225.7,400.5 226.9,403.4 228.0,406.2 231.2,407.5 234.4,408.7 237.5,410.0 241.2,410.9 245.0,411.2 248.3,410.7 251.6,410.2 255.0,410.0 258.2,408.7 261.8,409.0 265.0,407.5 268.4,407.5 271.7,406.9 275.0,406.2 278.2,406.0 281.2,405.0 286.2,403.8 287.9,401.0 288.3,397.7 290.0,395.0 291.2,391.8 292.1,388.4 292.5,385.0 294.1,381.1 296.2,377.5 297.3,373.7Z" fill="#feca60"/>
<path d="M281.2,405.0 278.2,406.0 275.0,406.2 271.7,406.9 268.4,407.5 265.0,407.5 261.8,409.0 258.2,408.7 255.0,410.0 251.6,410.2 248.3,410.7 245.0,411.2 246.2,415.0 247.6,418.7 248.8,422.5 250.2,425.7 250.2,429.2 251.2,432.5 251.2,435.7 252.1,438.7 252.7,441.8 252.5,445.0 251.6,448.3 251.3,451.6 251.2,455.0 248.8,460.0 249.2,463.8 250.0,467.5 252.6,469.9 255.0,472.5 257.2,474.6 259.7,476.2 262.5,477.5 266.4,479.1 270.0,481.2 273.4,482.7 276.2,485.0 280.0,482.5 283.7,481.5 287.5,481.2 290.3,478.8 293.8,477.5 291.8,475.0 290.0,472.5 289.3,468.8 288.8,465.0 287.7,461.6 285.7,458.5 285.0,455.0 284.3,451.6 283.7,448.2 282.5,445.0 282.4,441.6 283.2,438.3 283.8,435.0 283.0,431.6 282.4,428.3 281.2,425.0 281.9,421.7 281.7,418.3 282.5,415.0 281.9,411.7 281.8,408.3Z" fill="#fd8d3c"/>
<path d="M286.2,403.8 281.2,405.0 281.8,408.3 281.9,411.7 282.5,415.0 281.7,418.3 281.9,421.7 281.2,425.0 282.4,428.3 283.0,431.6 283.8,435.0 283.2,438.3 282.4,441.6 282.5,445.0 283.7,448.2 284.3,451.6 285.0,455.0 285.7,458.5 287.7,461.6 288.8,465.0 289.3,468.8 290.0,472.5 291.8,475.0 293.8,477.5 296.9,478.8 300.0,480.0 303.4,480.2 306.6,478.5 310.0,478.8 313.8,478.2 317.5,477.5 320.3,474.5 323.7,472.5 325.3,469.8 327.5,467.5 329.8,465.5 332.6,464.4 335.0,462.5 337.3,459.2 340.0,456.2 337.9,453.3 336.2,450.0 335.1,447.1 333.4,444.7 331.2,442.5 330.5,439.2 329.8,435.9 330.0,432.5 325.0,430.0 322.7,426.7 320.0,423.8 317.1,422.1 314.8,419.8 312.5,417.5 308.7,416.5 305.0,415.0 301.7,413.3 298.4,411.6 295.0,410.0 292.0,408.1 288.9,406.2Z" fill="#ffe996"/>
<path d="M350.0,400.0 347.6,402.3 346.4,405.4 343.8,407.5 341.7,410.8 339.3,414.0 337.5,417.5 335.4,420.2 333.9,423.2 332.5,426.2 331.0,429.3 330.0,432.5 329.8,435.9 330.5,439.2 331.2,442.5 333.4,444.7 335.1,447.1 336.2,450.0 337.9,453.3 340.0,456.2 345.0,458.8 348.9,458.8 352.6,457.7 353.8,457.5 354.9,457.3 358.8,457.2 362.5,456.2 365.8,457.0 369.1,457.4 372.5,457.5 375.8,457.2 379.2,457.1 382.5,457.0 386.8,455.7 391.2,455.0 390.4,451.7 390.1,448.2 388.8,445.0 387.7,441.7 388.2,438.3 387.5,435.0 386.7,431.7 387.3,428.3 386.2,425.0 386.5,421.6 385.9,418.3 385.0,415.0 383.2,411.7 382.0,408.2 380.0,405.0 378.2,402.6 376.8,399.9 375.0,397.5 371.2,397.0 367.5,397.5 363.9,396.2 360.0,396.2 356.6,397.4 353.3,398.6Z" fill="#f0421f"/>
<path d="M382.5,322.5 385.8,322.0 389.2,322.1 392.5,321.2 395.9,321.8 399.4,322.1 402.8,322.5 406.2,322.5 407.2,319.6 407.7,316.7 408.1,312.5 408.8,308.3 410.1,304.3 410.4,300.0 410.6,296.6 411.8,293.3 406.7,293.5 403.4,292.3 400.0,291.7 400.0,291.7 394.6,289.3 391.7,290.8 387.5,295.0 385.8,298.3 383.3,303.3 381.7,306.7 380.0,310.3 379.2,314.2 381.2,318.3Z" fill="#fd8d3c"/>
<path d="M426.2,377.0 423.1,377.8 420.0,378.8 416.3,378.1 412.5,377.5 409.1,376.3 405.9,374.9 402.5,373.8 399.6,372.4 396.5,371.6 393.7,370.0 393.6,373.4 392.9,376.7 392.5,380.0 391.3,382.8 389.5,385.2 387.5,387.5 385.2,389.5 382.5,390.8 380.0,392.5 377.2,394.7 375.0,397.5 376.8,399.9 378.2,402.6 380.0,405.0 382.0,408.2 383.2,411.7 385.0,415.0 385.9,418.3 386.5,421.6 386.2,425.0 387.3,428.3 386.7,431.7 387.5,435.0 388.2,438.3 387.7,441.7 388.8,445.0 390.1,448.2 390.4,451.7 391.2,455.0 394.4,455.1 397.5,454.5 402.5,451.2 405.1,449.7 407.2,447.4 410.0,446.2 412.7,444.5 414.9,442.0 417.5,440.0 420.0,438.4 422.6,436.8 425.0,435.0 427.8,432.5 431.2,431.2 432.2,426.9 432.5,422.5 432.8,419.3 431.9,416.3 431.8,413.1 431.2,410.0 430.8,406.9 430.4,403.8 429.7,400.7 430.0,397.5 428.6,394.3 428.7,390.7 427.5,387.5 427.6,383.9 426.7,380.5Z" fill="#f0421f"/>
<path d="M426.2,377.0 426.7,380.5 427.6,383.9 427.5,387.5 428.7,390.7 428.6,394.3 430.0,397.5 429.7,400.7 430.4,403.8 430.8,406.9 431.2,410.0 431.8,413.1 431.9,416.3 432.8,419.3 432.5,422.5 432.2,426.9 431.2,431.2 434.3,432.1 437.0,433.9 440.0,435.0 443.5,435.3 446.7,436.7 450.0,437.5 453.4,437.6 456.6,438.5 460.0,438.8 465.0,437.5 467.5,432.5 469.1,429.1 470.3,425.6 472.5,422.5 474.7,419.7 477.3,417.3 480.0,415.0 482.2,412.6 484.7,410.5 487.5,408.8 488.2,404.4 488.8,400.0 488.0,396.5 486.1,393.4 485.0,390.0 481.9,388.2 478.2,387.7 475.0,386.2 471.9,385.0 468.9,383.3 465.6,382.6 462.5,381.2 459.3,381.1 456.3,379.8 453.1,380.0 450.0,379.5 446.9,379.6 443.7,379.4 440.6,379.9 437.5,380.0 433.7,379.0 430.2,377.4Z" fill="#e0050f"/>
<path d="M431.2,431.2 427.8,432.5 425.0,435.0 422.6,436.8 420.0,438.4 417.5,440.0 414.9,442.0 412.7,444.5 410.0,446.2 407.2,447.4 405.1,449.7 402.5,451.2 397.5,454.5 398.4,458.6 400.0,462.5 401.9,464.8 402.9,467.8 405.0,470.0 407.1,472.9 409.7,475.5 411.2,478.8 415.0,475.0 419.0,473.6 422.5,471.2 426.3,473.0 430.0,475.0 433.4,476.6 436.9,477.8 440.0,480.0 443.3,481.0 446.7,481.7 450.0,482.5 453.2,483.8 456.6,484.3 460.0,485.0 463.1,484.8 465.7,483.0 468.8,482.5 470.0,477.5 472.0,473.6 472.3,472.9 473.0,471.4 475.1,468.5 476.2,465.0 476.8,461.7 476.9,458.3 477.5,455.0 476.4,451.4 473.6,448.6 472.5,445.0 470.4,442.1 467.2,440.3 465.0,437.5 460.0,438.8 456.6,438.5 453.4,437.6 450.0,437.5 446.7,436.7 443.5,435.3 440.0,435.0 437.0,433.9 434.3,432.1Z" fill="#fd8d3c"/>
<path d="M397.5,454.5 394.4,455.1 391.2,455.0 386.8,455.7 382.5,457.0 379.2,457.1 375.8,457.2 372.5,457.5 369.1,457.4 365.8,457.0 362.5,456.2 358.8,457.2 354.9,457.3 353.8,457.5 354.8,460.8 354.5,464.2 355.0,467.5 356.4,471.0 358.6,474.0 360.0,477.5 360.9,481.0 362.6,484.1 363.8,487.5 365.4,491.1 368.5,493.8 370.0,497.5 371.1,501.3 373.1,504.6 375.0,508.0 378.3,507.4 381.7,507.5 385.0,507.5 388.3,508.2 391.6,508.9 395.0,508.8 399.3,507.8 403.8,507.5 404.1,504.0 405.0,500.7 406.2,497.5 407.3,494.2 407.0,490.8 407.5,487.5 408.4,484.5 410.5,481.9 411.2,478.8 409.7,475.5 407.1,472.9 405.0,470.0 402.9,467.8 401.9,464.8 400.0,462.5 398.4,458.6Z" fill="#e0050f"/>
<path d="M353.8,457.5 352.6,457.7 348.9,458.8 345.0,458.8 340.0,456.2 337.3,459.2 335.0,462.5 332.6,464.4 329.8,465.5 327.5,467.5 325.3,469.8 323.7,472.5 324.3,475.8 324.6,479.2 325.0,482.5 322.7,485.5 321.4,489.0 320.0,492.5 318.5,495.7 318.0,499.1 317.5,502.5 315.9,506.4 313.8,510.0 316.6,510.9 319.7,511.4 322.5,512.5 325.6,514.5 329.2,515.7 332.5,517.5 336.0,519.3 339.4,521.3 342.5,523.8 345.0,526.2 348.7,524.7 351.5,521.8 355.0,520.0 358.2,518.1 362.0,517.3 365.0,515.0 367.2,512.9 369.9,511.6 372.5,510.0 375.0,508.0 373.1,504.6 371.1,501.3 370.0,497.5 368.5,493.8 365.4,491.1 363.8,487.5 362.6,484.1 360.9,481.0 360.0,477.5 358.6,474.0 356.4,471.0 355.0,467.5 354.5,464.2 354.8,460.8Z" fill="#e0050f"/>
<path d="M323.7,472.5 320.3,474.5 317.5,477.5 313.8,478.2 310.0,478.8 306.6,478.5 303.4,480.2 300.0,480.0 296.9,478.8 293.8,477.5 290.3,478.8 287.5,481.2 283.7,481.5 280.0,482.5 276.2,485.0 274.3,487.6 271.6,489.6 270.0,492.5 267.4,494.6 266.1,497.7 263.8,500.0 263.3,503.8 262.5,507.5 263.5,510.9 264.9,514.2 266.2,517.5 267.4,520.8 267.7,524.2 268.8,527.5 270.7,529.8 272.0,532.5 273.8,535.0 276.8,537.5 280.0,540.0 283.7,538.0 287.5,536.2 290.0,533.3 292.5,530.4 295.0,527.5 297.3,524.8 299.9,522.4 302.5,520.0 304.6,516.6 307.5,513.8 310.3,511.4 313.8,510.0 315.9,506.4 317.5,502.5 318.0,499.1 318.5,495.7 320.0,492.5 321.4,489.0 322.7,485.5 325.0,482.5 324.6,479.2 324.3,475.8Z" fill="#f0421f"/>
<path d="M276.2,485.0 273.4,482.7 270.0,481.2 266.4,479.1 262.5,477.5 259.7,476.2 257.2,474.6 255.0,472.5 252.6,469.9 250.0,467.5 249.2,463.8 248.8,460.0 244.4,459.2 240.0,458.8 236.7,458.3 233.3,458.0 230.0,457.5 226.9,458.4 223.8,458.8 224.7,462.0 226.2,465.0 226.0,468.8 225.5,472.5 224.0,476.2 222.5,480.0 222.0,483.3 222.2,486.7 221.2,490.0 220.1,494.3 220.0,498.8 221.4,502.4 223.8,505.5 226.9,507.8 229.5,510.8 231.9,512.8 233.0,516.0 235.5,518.0 237.5,520.8 239.9,523.3 241.8,526.2 242.6,529.3 244.1,532.1 245.5,535.0 248.4,536.1 250.9,538.1 253.8,539.5 257.0,540.8 259.9,542.7 262.5,545.0 265.6,545.7 268.4,547.4 271.2,548.8 274.9,547.8 278.8,547.5 279.6,543.8 280.0,540.0 276.8,537.5 273.8,535.0 272.0,532.5 270.7,529.8 268.8,527.5 267.7,524.2 267.4,520.8 266.2,517.5 264.9,514.2 263.5,510.9 262.5,507.5 263.3,503.8 263.8,500.0 266.1,497.7 267.4,494.6 270.0,492.5 271.6,489.6 274.3,487.6Z" fill="#e0050f"/>
<path d="M487.5,408.8 484.7,410.5 482.2,412.6 480.0,415.0 477.3,417.3 474.7,419.7 472.5,422.5 470.3,425.6 469.1,429.1 467.5,432.5 465.0,437.5 467.2,440.3 470.4,442.1 472.5,445.0 473.6,448.6 476.4,451.4 477.5,455.0 476.9,458.3 476.8,461.7 476.2,465.0 475.1,468.5 473.0,471.4 472.3,472.9 476.1,472.6 480.0,472.5 483.4,472.5 486.7,473.1 490.0,473.8 493.3,472.5 496.8,471.6 500.0,470.0 503.8,469.4 507.5,468.8 511.2,467.5 515.0,467.5 516.2,464.7 518.8,462.8 520.0,460.0 521.5,457.4 523.2,454.9 525.0,452.5 528.8,453.1 532.5,452.5 536.1,453.1 539.0,455.5 542.5,456.2 545.8,457.1 549.1,458.2 552.5,458.8 551.4,455.6 550.0,452.5 550.0,448.6 548.8,445.0 549.4,441.7 549.3,438.3 550.0,435.0 547.8,431.4 546.2,427.5 544.9,423.5 543.8,419.5 539.3,419.2 535.0,420.0 531.6,419.8 528.3,419.5 525.0,418.8 521.7,419.6 518.3,419.5 515.0,420.0 511.7,419.2 508.2,418.9 505.0,417.5 501.5,416.2 498.0,414.8 495.0,412.5 491.5,410.1Z" fill="#e0050f"/>
<path d="M472.3,472.9 472.0,473.6 470.0,477.5 468.8,482.5 469.1,485.8 469.2,489.2 470.0,492.5 471.6,495.7 472.8,499.0 473.8,502.5 474.7,505.6 474.4,508.9 476.0,511.8 476.2,515.0 477.0,518.4 477.4,521.8 478.8,525.0 477.6,527.8 477.3,530.9 476.2,533.8 479.1,535.2 482.0,536.4 485.0,537.5 488.5,537.2 491.5,535.2 495.0,535.0 498.8,536.1 502.5,537.5 507.5,540.0 511.4,538.4 515.0,536.2 517.8,535.1 520.5,533.8 520.0,530.0 520.9,526.7 522.5,523.8 520.4,521.4 518.8,518.8 515.8,516.7 513.1,514.3 510.0,512.5 507.9,510.1 506.0,507.5 504.3,504.8 502.4,502.1 500.0,500.0 499.1,496.5 499.1,492.9 497.9,489.5 497.3,485.9 496.2,482.5 497.0,479.3 498.3,476.3 499.0,473.1 500.0,470.0 496.8,471.6 493.3,472.5 490.0,473.8 486.7,473.1 483.4,472.5 480.0,472.5 476.1,472.6Z" fill="#f0421f"/>
<path d="M468.8,482.5 465.7,483.0 463.1,484.8 460.0,485.0 456.6,484.3 453.2,483.8 450.0,482.5 446.7,481.7 443.3,481.0 440.0,480.0 436.9,477.8 433.4,476.6 430.0,475.0 426.3,473.0 422.5,471.2 419.0,473.6 415.0,475.0 411.2,478.8 410.5,481.9 408.4,484.5 407.5,487.5 407.0,490.8 407.3,494.2 406.2,497.5 405.0,500.7 404.1,504.0 403.8,507.5 404.7,510.8 404.5,514.2 405.0,517.5 404.2,521.9 403.8,526.2 401.9,529.0 401.2,530.0 404.1,531.4 407.0,532.6 410.0,533.8 413.3,534.4 416.7,533.3 420.0,533.8 425.0,532.5 428.9,533.3 432.5,535.0 435.4,536.0 438.5,536.1 441.3,537.5 444.7,535.4 447.5,532.5 450.8,531.7 454.1,531.5 457.5,531.2 460.8,531.7 464.2,532.0 467.5,532.5 471.9,532.9 476.2,533.8 477.3,530.9 477.6,527.8 478.8,525.0 477.4,521.8 477.0,518.4 476.2,515.0 476.0,511.8 474.4,508.9 474.7,505.6 473.8,502.5 472.8,499.0 471.6,495.7 470.0,492.5 469.2,489.2 469.1,485.8Z" fill="#fd8d3c"/>
<path d="M585.0,448.0 587.1,444.2 588.0,440.0 590.3,437.4 591.7,434.1 593.8,431.2 594.9,428.4 597.2,426.3 598.8,423.8 599.2,420.7 600.7,418.0 601.2,415.0 604.2,413.4 605.9,410.4 608.8,408.8 611.5,406.5 613.8,403.8 616.2,401.2 618.6,398.4 620.8,395.4 623.0,392.5 624.5,388.5 627.0,385.0 624.5,381.5 623.0,377.5 619.2,375.7 615.0,375.0 611.7,375.4 608.4,376.0 605.0,375.5 601.8,376.9 598.5,377.7 595.0,378.0 591.6,379.6 588.1,380.8 585.0,383.0 581.9,385.2 578.5,386.8 575.0,388.0 571.7,389.7 568.4,391.6 565.0,393.0 566.1,396.5 566.1,400.3 567.5,403.8 569.8,406.2 571.8,408.9 573.8,411.6 575.5,414.5 577.1,417.2 579.2,419.5 580.7,422.4 583.0,424.5 585.4,428.3 587.0,432.5 587.2,436.3 586.2,440.0 585.5,444.0Z" fill="#f0421f"/>
<path d="M583.8,456.2 585.5,452.5 585.0,448.0 585.5,444.0 586.2,440.0 587.2,436.3 587.0,432.5 585.4,428.3 583.0,424.5 580.7,422.4 579.2,419.5 577.1,417.2 575.5,414.5 573.8,411.6 571.8,408.9 569.8,406.2 567.5,403.8 566.1,400.3 566.1,396.5 565.0,393.0 561.2,393.4 557.4,394.2 553.8,395.5 552.3,398.6 551.6,402.0 550.0,405.0 547.9,407.2 546.4,409.8 545.0,412.5 544.1,415.9 543.8,419.5 544.9,423.5 546.2,427.5 547.8,431.4 550.0,435.0 549.3,438.3 549.4,441.7 548.8,445.0 550.0,448.6 550.0,452.5 551.4,455.6 552.5,458.8 554.6,461.0 557.3,462.4 560.0,463.8 563.8,464.3 567.5,465.0 569.6,462.8 572.5,461.6 575.0,460.0 577.7,458.3 580.9,457.6Z" fill="#f0421f"/>
<path d="M580.5,472.0 582.5,468.8 584.4,465.4 587.0,462.5 586.2,457.5 583.8,456.2 580.9,457.6 577.7,458.3 575.0,460.0 572.5,461.6 569.6,462.8 567.5,465.0 563.8,464.3 560.0,463.8 557.3,462.4 554.6,461.0 552.5,458.8 549.1,458.2 545.8,457.1 542.5,456.2 539.0,455.5 536.1,453.1 532.5,452.5 528.8,453.1 525.0,452.5 524.0,455.8 523.2,459.1 522.5,462.5 521.1,465.7 521.2,469.3 520.0,472.5 520.5,475.8 520.6,479.2 521.2,482.5 523.0,486.3 525.0,490.0 527.1,493.4 530.0,496.2 533.3,497.8 536.2,500.0 539.4,500.4 542.1,501.9 545.0,503.0 548.8,501.7 552.5,500.0 555.9,502.8 558.8,506.2 561.8,508.2 564.5,510.5 567.5,506.2 569.7,502.8 570.8,498.8 571.7,495.1 571.1,491.2 572.0,487.5 573.0,484.1 573.6,480.6 573.8,477.0 577.2,474.6Z" fill="#ffe996"/>
<path d="M622.0,500.0 625.1,498.1 627.5,495.5 630.1,492.8 632.5,490.0 632.1,486.3 630.5,483.0 628.3,480.8 625.2,480.1 623.0,478.0 621.3,475.5 620.1,472.7 618.8,470.0 620.0,466.8 619.9,463.3 620.5,460.0 619.2,457.1 617.5,454.5 614.4,455.0 611.2,454.4 608.1,455.2 605.0,455.5 601.6,456.2 598.4,457.8 595.0,458.8 593.7,462.5 592.5,466.2 589.2,468.5 586.2,471.2 580.5,472.0 577.2,474.6 573.8,477.0 573.6,480.6 573.0,484.1 572.0,487.5 571.1,491.2 571.7,495.1 570.8,498.8 573.7,500.3 577.1,500.9 580.0,502.5 583.0,503.6 586.3,503.7 589.5,503.9 592.5,505.0 595.0,502.1 597.3,499.0 600.0,496.2 603.5,494.2 606.2,491.2 608.4,493.8 611.0,495.7 613.8,497.5 617.8,498.9Z" fill="#feca60"/>
<path d="M621.2,543.8 624.5,542.8 627.5,541.4 630.5,540.0 632.9,538.2 635.2,536.2 638.0,535.0 638.7,531.7 639.9,528.4 640.0,525.0 638.0,522.6 636.4,519.9 634.2,517.6 632.5,515.0 630.8,511.9 630.0,508.5 628.0,505.5 625.3,502.4 622.0,500.0 617.8,498.9 613.8,497.5 611.0,495.7 608.4,493.8 606.2,491.2 603.5,494.2 600.0,496.2 597.3,499.0 595.0,502.1 592.5,505.0 589.5,503.9 586.3,503.7 583.0,503.6 580.0,502.5 577.1,500.9 573.7,500.3 570.8,498.8 569.7,502.8 567.5,506.2 564.5,510.5 565.8,513.9 568.6,516.6 570.0,520.0 572.4,521.8 575.3,522.9 577.5,525.0 579.7,527.2 582.2,528.8 585.0,530.0 587.8,532.2 589.6,535.4 592.5,537.5 594.7,539.7 595.8,542.5 597.5,545.0 600.0,548.8 603.4,548.3 606.5,546.4 610.0,546.2 613.9,546.0 617.6,545.2Z" fill="#fd8d3c"/>
<path d="M525.0,452.5 523.2,454.9 521.5,457.4 520.0,460.0 518.8,462.8 516.2,464.7 515.0,467.5 511.2,467.5 507.5,468.8 503.8,469.4 500.0,470.0 499.0,473.1 498.3,476.3 497.0,479.3 496.2,482.5 497.3,485.9 497.9,489.5 499.1,492.9 499.1,496.5 500.0,500.0 502.4,502.1 504.3,504.8 506.0,507.5 507.9,510.1 510.0,512.5 513.1,514.3 515.8,516.7 518.8,518.8 520.4,521.4 522.5,523.8 524.0,520.4 526.2,517.5 528.4,515.1 530.8,512.8 532.5,510.0 534.4,506.9 535.1,503.4 536.2,500.0 533.3,497.8 530.0,496.2 527.1,493.4 525.0,490.0 523.0,486.3 521.2,482.5 520.6,479.2 520.5,475.8 520.0,472.5 521.2,469.3 521.1,465.7 522.5,462.5 523.2,459.1 524.0,455.8Z" fill="#f0421f"/>
<path d="M564.5,510.5 561.8,508.2 558.8,506.2 555.9,502.8 552.5,500.0 548.8,501.7 545.0,503.0 542.1,501.9 539.4,500.4 536.2,500.0 535.1,503.4 534.4,506.9 532.5,510.0 530.8,512.8 528.4,515.1 526.2,517.5 524.0,520.4 522.5,523.8 520.9,526.7 520.0,530.0 520.5,533.8 522.5,537.5 525.9,537.7 529.2,536.6 532.5,536.2 535.8,537.5 539.2,538.6 542.5,540.0 546.3,539.0 550.0,537.5 552.9,539.8 556.2,541.2 556.8,545.0 556.8,548.8 557.5,552.5 557.3,555.6 556.6,558.7 557.2,561.9 556.2,565.0 558.7,567.6 560.2,571.0 562.5,573.8 566.2,575.8 570.0,577.5 575.0,576.2 578.1,573.7 581.7,572.1 585.0,570.0 587.2,567.8 589.7,566.2 592.5,565.0 593.5,561.2 595.0,557.5 596.9,554.7 598.0,551.5 600.0,548.8 597.5,545.0 595.8,542.5 594.7,539.7 592.5,537.5 589.6,535.4 587.8,532.2 585.0,530.0 582.2,528.8 579.7,527.2 577.5,525.0 575.3,522.9 572.4,521.8 570.0,520.0 568.6,516.6 565.8,513.9Z" fill="#f0421f"/>
<path d="M522.5,537.5 520.5,533.8 517.8,535.1 515.0,536.2 511.4,538.4 507.5,540.0 506.4,543.6 503.9,546.5 502.5,550.0 501.0,553.4 499.3,556.7 497.5,560.0 495.0,565.0 492.3,566.3 490.1,568.5 487.5,570.0 484.4,569.3 481.2,570.0 480.1,573.8 478.8,577.5 477.7,580.7 477.6,584.1 477.5,587.5 478.1,590.9 479.2,594.2 480.0,597.5 480.8,601.4 482.5,605.0 485.7,606.4 489.2,606.5 492.5,607.5 495.8,606.4 499.3,606.2 502.5,605.0 505.8,605.6 509.2,605.4 512.5,606.2 517.0,608.0 517.4,604.9 517.1,601.7 517.7,598.7 519.0,595.7 518.8,592.5 518.9,589.4 519.2,586.4 520.1,583.5 520.7,580.5 521.2,577.5 521.3,574.4 521.7,571.2 521.7,568.1 522.5,565.0 523.2,562.0 522.8,559.0 523.7,556.0 523.0,553.0 523.8,550.0 522.8,546.9 522.7,543.8 522.6,540.6Z" fill="#ffe996"/>
<path d="M507.5,540.0 502.5,537.5 498.8,536.1 495.0,535.0 491.5,535.2 488.5,537.2 485.0,537.5 482.0,536.4 479.1,535.2 476.2,533.8 471.9,532.9 467.5,532.5 464.2,532.0 460.8,531.7 457.5,531.2 454.1,531.5 450.8,531.7 447.5,532.5 444.7,535.4 441.3,537.5 441.3,540.9 442.7,544.1 442.5,547.5 441.6,550.8 441.0,554.2 440.0,557.5 440.2,561.3 441.2,565.0 442.5,568.8 445.9,568.5 449.2,569.1 452.5,570.0 455.9,569.3 459.1,567.9 462.5,567.5 466.1,565.7 470.0,565.0 473.9,565.7 477.5,567.5 481.2,570.0 484.4,569.3 487.5,570.0 490.1,568.5 492.3,566.3 495.0,565.0 497.5,560.0 499.3,556.7 501.0,553.4 502.5,550.0 503.9,546.5 506.4,543.6Z" fill="#e0050f"/>
<path d="M441.3,537.5 438.5,536.1 435.4,536.0 432.5,535.0 428.9,533.3 425.0,532.5 420.0,533.8 416.7,533.3 413.3,534.4 410.0,533.8 407.0,532.6 404.1,531.4 401.2,530.0 400.6,531.0 398.4,534.2 396.2,537.5 394.0,539.6 393.0,542.5 391.2,545.0 390.0,547.9 388.4,550.7 387.5,553.8 387.0,556.9 386.2,560.0 387.7,563.3 388.9,566.6 390.0,570.0 393.6,571.6 396.9,573.9 400.0,576.2 403.5,574.4 406.9,572.4 410.0,570.0 413.0,568.3 416.2,567.5 419.5,569.9 422.5,572.5 424.7,575.3 427.0,578.0 430.0,580.0 435.0,582.5 436.3,578.4 438.8,575.0 440.1,571.5 442.5,568.8 441.2,565.0 440.2,561.3 440.0,557.5 441.0,554.2 441.6,550.8 442.5,547.5 442.7,544.1 441.3,540.9Z" fill="#e0050f"/>
<path d="M621.2,543.8 617.6,545.2 613.9,546.0 610.0,546.2 606.5,546.4 603.4,548.3 600.0,548.8 598.0,551.5 596.9,554.7 595.0,557.5 593.5,561.2 592.5,565.0 589.7,566.2 587.2,567.8 585.0,570.0 581.7,572.1 578.1,573.7 575.0,576.2 570.0,577.5 567.9,580.5 566.2,583.8 566.2,588.2 565.0,592.5 561.7,594.0 558.8,596.2 559.2,600.7 560.0,605.0 562.9,606.8 565.0,609.6 568.0,611.2 571.3,609.4 575.0,608.8 578.5,606.7 581.2,603.8 584.1,602.1 586.0,599.3 588.8,597.5 592.6,595.8 596.2,593.8 599.4,595.5 603.0,596.2 605.8,594.5 608.0,592.0 610.5,590.0 613.6,588.4 616.8,587.0 620.0,585.5 623.5,584.0 626.6,581.7 630.0,580.0 633.5,577.2 636.2,573.8 634.8,571.0 634.5,567.9 633.8,565.0 630.7,562.6 627.9,560.0 625.0,557.5 622.4,554.7 619.5,552.1 617.5,548.8 619.9,546.6Z" fill="#f0421f"/>
<path d="M556.2,565.0 557.2,561.9 556.6,558.7 557.3,555.6 557.5,552.5 556.8,548.8 556.8,545.0 556.2,541.2 552.9,539.8 550.0,537.5 546.3,539.0 542.5,540.0 539.2,538.6 535.8,537.5 532.5,536.2 529.2,536.6 525.9,537.7 522.5,537.5 522.6,540.6 522.7,543.8 522.8,546.9 523.8,550.0 523.0,553.0 523.7,556.0 522.8,559.0 523.2,562.0 522.5,565.0 521.7,568.1 521.7,571.2 521.3,574.4 521.2,577.5 520.7,580.5 520.1,583.5 519.2,586.4 518.9,589.4 518.8,592.5 519.0,595.7 517.7,598.7 517.1,601.7 517.4,604.9 517.0,608.0 521.1,609.4 525.0,611.2 530.0,608.0 533.1,609.3 536.2,610.5 539.0,612.3 542.3,613.0 545.0,615.0 548.4,615.5 551.7,616.1 555.0,617.0 558.3,616.4 561.7,616.9 565.0,616.2 568.0,611.2 565.0,609.6 562.9,606.8 560.0,605.0 559.2,600.7 558.8,596.2 561.7,594.0 565.0,592.5 566.2,588.2 566.2,583.8 567.9,580.5 570.0,577.5 566.2,575.8 562.5,573.8 560.2,571.0 558.7,567.6Z" fill="#e0050f"/>
<path d="M245.5,535.0 242.5,533.5 239.7,530.5 237.0,527.5 235.2,524.8 232.6,522.7 230.8,520.0 228.3,516.4 225.5,513.0 225.3,516.2 224.4,519.3 223.8,522.5 223.7,526.0 222.4,529.4 222.8,533.0 222.5,536.5 221.8,540.0 221.7,543.6 220.3,546.9 220.1,550.5 220.4,554.1 219.2,557.5 218.4,560.7 217.6,563.9 217.3,567.2 217.0,570.5 216.2,573.6 216.8,576.9 215.8,580.0 215.0,583.3 215.1,586.7 214.5,590.0 217.9,591.1 221.5,590.7 225.0,591.2 228.5,592.0 231.9,593.2 235.0,595.0 238.5,596.4 242.0,597.7 245.0,600.0 248.1,602.2 251.4,603.8 255.0,605.0 257.9,606.1 260.0,608.3 262.5,610.0 266.2,610.4 270.0,610.6 273.8,610.0 275.6,606.3 277.5,602.5 278.6,599.2 279.7,596.0 280.0,592.5 282.3,589.3 284.7,586.2 286.2,582.5 288.5,579.7 290.6,576.8 292.5,573.8 292.0,572.7 290.0,568.8 287.1,567.7 284.2,566.9 281.2,566.2 280.0,562.0 280.0,557.5 279.6,554.2 279.3,550.8 278.8,547.5 274.9,547.8 271.2,548.8 268.4,547.4 265.6,545.7 262.5,545.0 259.9,542.7 257.0,540.8 253.8,539.5 250.9,538.1 248.4,536.1Z" fill="#fd8d3c"/>
<path d="M214.5,590.0 213.6,593.1 213.1,596.2 213.5,599.4 212.5,602.5 211.8,606.0 210.6,609.4 210.5,613.0 209.9,616.5 209.2,620.0 208.7,623.5 207.2,626.9 206.7,630.4 206.3,634.0 205.5,637.5 205.0,640.6 203.5,643.4 202.8,646.4 202.9,649.6 201.8,652.5 200.3,655.5 200.0,658.8 203.2,658.5 206.2,660.0 209.4,659.8 212.5,660.0 215.5,659.8 218.4,658.7 221.4,658.2 224.6,658.6 227.5,657.5 230.5,657.5 233.5,656.6 236.5,656.7 239.5,655.9 242.5,656.2 245.7,656.1 248.8,656.6 251.8,657.5 255.0,657.5 258.6,656.0 262.4,655.5 266.2,655.0 265.9,651.2 265.0,647.5 265.9,644.2 267.1,640.9 267.5,637.5 269.8,635.6 272.2,633.7 275.0,632.5 277.1,630.0 279.1,627.4 281.2,625.0 279.7,621.1 277.5,617.5 275.3,613.9 273.8,610.0 270.0,610.6 266.2,610.4 262.5,610.0 260.0,608.3 257.9,606.1 255.0,605.0 251.4,603.8 248.1,602.2 245.0,600.0 242.0,597.7 238.5,596.4 235.0,595.0 231.9,593.2 228.5,592.0 225.0,591.2 221.5,590.7 217.9,591.1Z" fill="#ffe996"/>
<path d="M200.0,658.8 197.8,661.7 196.2,665.0 193.1,665.1 190.0,665.0 186.1,665.9 182.5,667.5 185.0,672.5 188.0,673.8 191.2,673.8 194.8,676.4 197.5,680.0 198.1,683.4 198.5,686.8 200.0,690.0 203.8,690.0 207.5,690.0 210.4,691.1 212.1,693.9 215.0,695.0 218.5,695.7 221.7,697.5 225.0,698.8 228.1,700.6 231.8,701.0 235.0,702.5 237.2,705.3 239.5,708.0 242.5,710.0 246.3,710.6 250.0,711.2 253.5,709.2 256.2,706.2 257.2,703.0 258.8,700.0 259.9,696.4 261.5,693.1 263.8,690.0 265.5,686.7 266.6,683.1 268.8,680.0 270.1,676.9 271.2,673.8 270.5,669.4 270.0,665.0 268.1,661.9 267.6,658.3 266.2,655.0 262.4,655.5 258.6,656.0 255.0,657.5 251.8,657.5 248.8,656.6 245.7,656.1 242.5,656.2 239.5,655.9 236.5,656.7 233.5,656.6 230.5,657.5 227.5,657.5 224.6,658.6 221.4,658.2 218.4,658.7 215.5,659.8 212.5,660.0 209.4,659.8 206.2,660.0 203.2,658.5Z" fill="#feca60"/>
<path d="M280.0,540.0 279.6,543.8 278.8,547.5 279.3,550.8 279.6,554.2 280.0,557.5 280.0,562.0 281.2,566.2 284.2,566.9 287.1,567.7 290.0,568.8 292.0,572.7 292.5,573.8 293.0,574.8 293.8,576.2 296.6,579.1 300.0,581.2 303.3,580.9 306.6,579.8 310.0,580.0 313.3,581.4 316.8,582.0 320.0,583.8 323.3,585.1 326.5,586.7 330.0,587.5 332.5,585.0 335.0,583.4 337.1,581.1 340.0,580.0 341.2,576.4 343.3,573.3 345.0,570.0 347.0,566.8 347.8,563.1 350.0,560.0 347.5,555.0 345.3,552.9 344.0,550.1 342.5,547.5 343.4,544.2 343.8,540.9 343.8,537.5 344.5,533.8 344.5,530.0 345.0,526.2 342.5,523.8 339.4,521.3 336.0,519.3 332.5,517.5 329.2,515.7 325.6,514.5 322.5,512.5 319.7,511.4 316.6,510.9 313.8,510.0 310.3,511.4 307.5,513.8 304.6,516.6 302.5,520.0 299.9,522.4 297.3,524.8 295.0,527.5 292.5,530.4 290.0,533.3 287.5,536.2 283.7,538.0Z" fill="#feca60"/>
<path d="M375.0,508.0 372.5,510.0 369.9,511.6 367.2,512.9 365.0,515.0 362.0,517.3 358.2,518.1 355.0,520.0 351.5,521.8 348.7,524.7 345.0,526.2 344.5,530.0 344.5,533.8 343.8,537.5 343.8,540.9 343.4,544.2 342.5,547.5 344.0,550.1 345.3,552.9 347.5,555.0 350.0,560.0 353.2,558.8 356.7,558.6 360.0,557.5 363.1,559.4 366.7,559.9 370.0,561.2 373.4,561.2 376.6,559.9 380.0,560.0 383.1,559.6 386.2,560.0 387.0,556.9 387.5,553.8 388.4,550.7 390.0,547.9 391.2,545.0 393.0,542.5 394.0,539.6 396.2,537.5 398.4,534.2 400.6,531.0 401.2,530.0 401.9,529.0 403.8,526.2 404.2,521.9 405.0,517.5 404.5,514.2 404.7,510.8 403.8,507.5 399.3,507.8 395.0,508.8 391.6,508.9 388.3,508.2 385.0,507.5 381.7,507.5 378.3,507.4Z" fill="#e0050f"/>
<path d="M386.2,560.0 383.1,559.6 380.0,560.0 376.6,559.9 373.4,561.2 370.0,561.2 366.7,559.9 363.1,559.4 360.0,557.5 356.7,558.6 353.2,558.8 350.0,560.0 347.8,563.1 347.0,566.8 345.0,570.0 343.3,573.3 341.2,576.4 340.0,580.0 337.1,581.1 335.0,583.4 332.5,585.0 330.0,587.5 328.9,591.2 328.8,595.0 329.6,597.9 330.9,600.7 331.2,603.8 334.0,605.1 337.1,605.8 339.6,607.7 342.5,608.8 345.8,609.2 349.2,609.2 352.5,610.0 355.8,609.2 359.2,608.6 362.5,607.5 365.8,607.0 369.1,606.2 372.5,606.2 377.5,603.8 377.3,600.7 375.2,598.1 375.0,595.0 376.0,591.2 377.5,587.5 379.1,585.0 381.1,582.7 382.5,580.0 384.8,577.3 387.5,575.0 390.0,570.0 388.9,566.6 387.7,563.3Z" fill="#e0050f"/>
<path d="M330.0,587.5 326.5,586.7 323.3,585.1 320.0,583.8 316.8,582.0 313.3,581.4 310.0,580.0 306.6,579.8 303.3,580.9 300.0,581.2 296.6,579.1 293.8,576.2 293.0,574.8 292.5,573.8 290.6,576.8 288.5,579.7 286.2,582.5 284.7,586.2 282.3,589.3 280.0,592.5 279.7,596.0 278.6,599.2 277.5,602.5 275.6,606.3 273.8,610.0 275.3,613.9 277.5,617.5 279.7,621.1 281.2,625.0 285.1,625.1 288.8,624.8 292.5,623.8 295.8,622.9 299.3,622.8 302.5,621.2 305.8,620.3 309.2,621.1 312.5,620.0 315.7,619.9 318.8,618.8 320.5,615.5 322.5,612.5 325.3,610.3 327.5,607.5 331.2,603.8 330.9,600.7 329.6,597.9 328.8,595.0 328.9,591.2Z" fill="#f0421f"/>
<path d="M318.8,618.8 315.7,619.9 312.5,620.0 309.2,621.1 305.8,620.3 302.5,621.2 299.3,622.8 295.8,622.9 292.5,623.8 288.8,624.8 285.1,625.1 281.2,625.0 279.1,627.4 277.1,630.0 275.0,632.5 272.2,633.7 269.8,635.6 267.5,637.5 267.1,640.9 265.9,644.2 265.0,647.5 265.9,651.2 266.2,655.0 267.6,658.3 268.1,661.9 270.0,665.0 270.5,669.4 271.2,673.8 274.3,673.3 277.3,672.7 280.0,671.2 283.6,672.5 286.7,674.6 290.0,676.2 293.4,676.4 296.6,675.1 300.0,675.0 305.0,673.8 310.0,673.8 313.6,672.0 317.5,671.2 321.0,669.4 323.9,666.6 327.5,665.0 330.3,663.8 332.8,662.2 335.0,660.0 334.5,656.2 333.8,652.5 334.1,649.4 334.8,646.5 336.2,643.8 335.0,640.6 333.5,637.6 331.2,635.0 328.9,632.7 326.7,630.3 325.0,627.5 323.4,624.3 320.8,621.7Z" fill="#e0050f"/>
<path d="M331.2,603.8 327.5,607.5 325.3,610.3 322.5,612.5 320.5,615.5 318.8,618.8 320.8,621.7 323.4,624.3 325.0,627.5 326.7,630.3 328.9,632.7 331.2,635.0 333.5,637.6 335.0,640.6 336.2,643.8 339.7,642.4 342.5,640.0 346.4,640.7 350.0,642.5 354.4,642.0 358.8,642.5 360.3,639.8 362.5,637.5 364.7,635.3 366.0,632.6 367.5,630.0 370.0,628.3 372.6,626.8 375.0,625.0 377.7,623.1 379.8,620.6 382.5,618.8 380.6,615.6 378.8,612.5 378.4,608.1 377.5,603.8 372.5,606.2 369.1,606.2 365.8,607.0 362.5,607.5 359.2,608.6 355.8,609.2 352.5,610.0 349.2,609.2 345.8,609.2 342.5,608.8 339.6,607.7 337.1,605.8 334.0,605.1Z" fill="#e0050f"/>
<path d="M390.0,570.0 387.5,575.0 384.8,577.3 382.5,580.0 381.1,582.7 379.1,585.0 377.5,587.5 376.0,591.2 375.0,595.0 375.2,598.1 377.3,600.7 377.5,603.8 378.4,608.1 378.8,612.5 380.6,615.6 382.5,618.8 386.3,620.4 390.0,622.5 392.1,624.9 394.9,626.4 397.9,627.6 400.0,630.0 402.3,632.2 403.5,635.2 405.7,637.4 407.5,640.0 409.0,643.3 411.5,645.9 413.8,648.8 416.8,647.8 420.0,647.5 422.1,645.3 424.9,644.0 427.5,642.5 430.9,641.9 434.3,641.2 437.5,640.0 440.6,638.7 443.2,636.5 446.2,635.0 448.0,631.2 450.0,627.5 448.7,623.2 448.8,618.8 447.2,615.4 445.0,612.5 443.6,609.0 441.2,606.1 440.0,602.5 438.6,599.2 437.0,596.0 436.2,592.5 435.9,589.2 434.9,585.9 435.0,582.5 430.0,580.0 427.0,578.0 424.7,575.3 422.5,572.5 419.5,569.9 416.2,567.5 413.0,568.3 410.0,570.0 406.9,572.4 403.5,574.4 400.0,576.2 396.9,573.9 393.6,571.6Z" fill="#e0050f"/>
<path d="M442.5,568.8 440.1,571.5 438.8,575.0 436.3,578.4 435.0,582.5 434.9,585.9 435.9,589.2 436.2,592.5 437.0,596.0 438.6,599.2 440.0,602.5 441.2,606.1 443.6,609.0 445.0,612.5 447.2,615.4 448.8,618.8 452.5,618.5 456.2,618.8 459.0,617.3 462.0,616.6 465.0,616.2 468.6,614.6 471.9,612.5 475.0,610.0 477.1,607.8 480.1,606.9 482.5,605.0 480.8,601.4 480.0,597.5 479.2,594.2 478.1,590.9 477.5,587.5 477.6,584.1 477.7,580.7 478.8,577.5 480.1,573.8 481.2,570.0 477.5,567.5 473.9,565.7 470.0,565.0 466.1,565.7 462.5,567.5 459.1,567.9 455.9,569.3 452.5,570.0 449.2,569.1 445.9,568.5Z" fill="#e0050f"/>
<path d="M448.8,618.8 448.7,623.2 450.0,627.5 448.0,631.2 446.2,635.0 450.7,635.0 455.0,636.2 458.7,637.5 462.5,637.5 466.4,636.6 470.0,635.0 472.4,637.2 475.4,638.7 477.5,641.2 479.5,644.6 482.6,647.0 485.0,650.0 487.8,652.2 490.5,654.5 492.5,657.5 492.1,661.9 491.2,666.2 496.2,665.0 497.8,662.2 500.0,660.0 502.1,657.8 505.2,657.0 507.5,655.0 510.0,650.0 512.4,647.4 515.0,645.0 517.5,642.5 519.9,640.4 521.6,637.7 523.8,635.5 524.0,632.4 524.1,629.3 524.5,626.2 523.6,623.0 521.3,620.5 520.0,617.5 519.2,614.3 518.0,611.2 517.0,608.0 512.5,606.2 509.2,605.4 505.8,605.6 502.5,605.0 499.3,606.2 495.8,606.4 492.5,607.5 489.2,606.5 485.7,606.4 482.5,605.0 480.1,606.9 477.1,607.8 475.0,610.0 471.9,612.5 468.6,614.6 465.0,616.2 462.0,616.6 459.0,617.3 456.2,618.8 452.5,618.5Z" fill="#feca60"/>
<path d="M446.2,635.0 443.2,636.5 440.6,638.7 437.5,640.0 434.3,641.2 430.9,641.9 427.5,642.5 424.9,644.0 422.1,645.3 420.0,647.5 416.8,647.8 413.8,648.8 412.8,651.8 410.9,654.4 410.0,657.5 408.3,661.1 407.5,665.0 410.0,670.0 412.5,673.8 416.5,675.1 420.0,677.5 423.9,678.3 427.5,680.0 431.2,682.0 435.0,683.8 438.3,684.7 441.2,686.2 444.4,686.0 447.5,685.0 450.7,683.3 454.0,682.0 457.5,681.2 461.1,680.1 464.0,677.5 467.5,676.2 470.5,673.7 474.3,672.2 477.5,670.0 480.4,668.9 482.9,667.2 485.0,665.0 488.1,665.6 491.2,666.2 492.1,661.9 492.5,657.5 490.5,654.5 487.8,652.2 485.0,650.0 482.6,647.0 479.5,644.6 477.5,641.2 475.4,638.7 472.4,637.2 470.0,635.0 466.4,636.6 462.5,637.5 458.7,637.5 455.0,636.2 450.7,635.0Z" fill="#fd8d3c"/>
<path d="M413.8,648.8 411.5,645.9 409.0,643.3 407.5,640.0 405.7,637.4 403.5,635.2 402.3,632.2 400.0,630.0 397.9,627.6 394.9,626.4 392.1,624.9 390.0,622.5 386.3,620.4 382.5,618.8 379.8,620.6 377.7,623.1 375.0,625.0 372.6,626.8 370.0,628.3 367.5,630.0 366.0,632.6 364.7,635.3 362.5,637.5 360.3,639.8 358.8,642.5 359.4,646.1 361.8,648.9 362.5,652.5 363.9,656.0 365.5,659.3 367.5,662.5 368.1,665.5 369.8,668.2 370.0,671.2 373.3,671.9 376.6,672.5 380.0,672.5 383.2,671.3 386.8,671.8 390.0,670.5 393.4,670.1 396.7,670.6 400.0,671.2 405.0,672.5 408.8,672.8 412.5,673.8 410.0,670.0 407.5,665.0 408.3,661.1 410.0,657.5 410.9,654.4 412.8,651.8Z" fill="#e0050f"/>
<path d="M358.8,642.5 354.4,642.0 350.0,642.5 346.4,640.7 342.5,640.0 339.7,642.4 336.2,643.8 334.8,646.5 334.1,649.4 333.8,652.5 334.5,656.2 335.0,660.0 332.8,662.2 330.3,663.8 327.5,665.0 323.9,666.6 321.0,669.4 317.5,671.2 313.6,672.0 310.0,673.8 305.0,673.8 303.8,676.7 302.8,679.7 301.2,682.5 300.0,686.2 298.8,690.0 300.4,693.9 302.5,697.5 303.8,701.2 305.0,705.0 304.4,709.0 302.5,712.5 301.1,715.4 298.8,717.5 300.0,721.2 304.0,721.7 308.0,721.2 308.8,718.0 308.4,714.5 309.5,711.2 313.7,709.7 317.5,707.5 318.6,703.9 321.3,701.0 322.5,697.5 324.8,695.4 327.6,693.9 329.9,691.8 332.5,690.0 336.1,688.3 338.8,685.3 342.5,683.8 345.8,684.4 349.3,683.9 352.5,685.0 355.9,684.6 359.0,682.7 362.5,682.5 365.0,680.0 365.7,676.7 367.5,673.8 370.0,671.2 369.8,668.2 368.1,665.5 367.5,662.5 365.5,659.3 363.9,656.0 362.5,652.5 361.8,648.9 359.4,646.1Z" fill="#f0421f"/>
<path d="M626.8,601.4 628.8,597.5 630.2,593.8 631.2,590.0 631.0,586.6 630.4,583.3 630.0,580.0 626.6,581.7 623.5,584.0 620.0,585.5 616.8,587.0 613.6,588.4 610.5,590.0 608.0,592.0 605.8,594.5 603.0,596.2 599.4,595.5 596.2,593.8 592.6,595.8 588.8,597.5 586.0,599.3 584.1,602.1 581.2,603.8 578.5,606.7 575.0,608.8 571.3,609.4 568.0,611.2 565.0,616.2 564.2,619.2 563.5,622.1 562.5,625.0 563.3,628.3 564.0,631.6 563.8,635.0 565.1,639.0 567.5,642.5 569.6,645.4 572.5,647.5 576.4,646.7 580.0,645.0 583.3,646.6 586.2,648.8 588.6,646.9 591.5,645.8 593.8,643.8 596.7,643.1 599.7,642.4 602.5,641.2 606.8,642.4 611.2,642.5 614.8,641.4 617.7,638.8 621.3,637.5 626.2,636.2 629.4,634.4 632.5,632.5 631.4,629.3 630.0,626.2 627.7,623.9 625.8,621.2 623.8,618.8 622.6,614.5 622.5,610.0 624.1,606.1 626.2,602.5Z" fill="#ffe996"/>
<path d="M637.5,657.5 640.8,655.3 643.8,652.5 647.1,649.6 650.0,646.2 653.2,644.4 656.8,643.2 660.0,641.2 661.6,638.0 663.8,635.0 665.4,632.5 667.1,630.0 668.8,627.5 670.6,624.8 671.7,621.7 673.0,618.8 672.8,614.9 671.2,611.2 667.8,611.9 664.3,611.9 661.0,613.3 657.5,613.8 654.4,613.5 651.2,614.1 648.1,613.9 645.0,613.8 641.7,612.4 638.5,610.8 635.0,610.0 632.2,607.3 629.0,605.2 626.2,602.5 624.1,606.1 622.5,610.0 622.6,614.5 623.8,618.8 625.8,621.2 627.7,623.9 630.0,626.2 631.4,629.3 632.5,632.5 629.4,634.4 626.2,636.2 621.3,637.5 622.9,640.0 625.0,642.2 626.2,645.0 628.9,647.1 630.2,650.2 632.5,652.5 635.3,654.7Z" fill="#feca60"/>
<path d="M572.5,686.2 575.4,688.5 578.8,690.0 581.8,690.9 585.0,691.2 588.7,690.4 592.5,690.0 596.4,690.8 600.0,692.5 603.5,690.1 607.5,688.8 611.2,689.5 615.0,690.0 618.4,687.9 621.2,685.0 622.5,681.2 623.8,677.5 626.1,674.3 628.8,671.2 630.9,667.9 633.8,665.0 635.4,661.2 637.5,657.5 635.3,654.7 632.5,652.5 630.2,650.2 628.9,647.1 626.2,645.0 625.0,642.2 622.9,640.0 621.3,637.5 617.7,638.8 614.8,641.4 611.2,642.5 606.8,642.4 602.5,641.2 599.7,642.4 596.7,643.1 593.8,643.8 591.5,645.8 588.6,646.9 586.2,648.8 583.3,646.6 580.0,645.0 576.4,646.7 572.5,647.5 572.5,650.9 572.0,654.2 571.2,657.5 571.0,660.9 571.0,664.2 570.0,667.5 570.4,670.9 571.3,674.3 572.5,677.5 573.1,681.9Z" fill="#ffe996"/>
<path d="M496.2,665.0 499.2,666.3 502.5,666.2 505.3,667.7 508.3,668.9 511.2,670.0 514.5,671.0 517.5,672.5 521.2,671.8 525.0,671.2 528.6,672.8 532.5,673.8 536.4,672.1 540.0,670.0 542.7,673.0 546.2,675.0 549.3,677.5 552.5,680.0 555.6,679.8 558.8,680.0 562.3,682.0 565.0,685.0 568.8,685.1 572.5,686.2 573.1,681.9 572.5,677.5 571.3,674.3 570.4,670.9 570.0,667.5 571.0,664.2 571.0,660.9 571.2,657.5 572.0,654.2 572.5,650.9 572.5,647.5 569.1,648.1 565.8,649.1 562.5,650.0 559.0,649.7 556.0,647.7 552.5,647.5 549.1,646.4 545.8,645.1 542.5,643.8 539.0,642.4 535.7,640.7 532.5,638.8 529.6,637.6 526.8,636.2 523.8,635.5 521.6,637.7 519.9,640.4 517.5,642.5 515.0,645.0 512.4,647.4 510.0,650.0 507.5,655.0 505.2,657.0 502.1,657.8 500.0,660.0 497.8,662.2Z" fill="#feca60"/>
<path d="M434.5,710.0 435.0,705.0 436.4,701.8 436.5,698.3 437.5,695.0 438.9,692.2 439.4,688.9 441.2,686.2 438.3,684.7 435.0,683.8 431.2,682.0 427.5,680.0 423.9,678.3 420.0,677.5 416.5,675.1 412.5,673.8 408.8,672.8 405.0,672.5 400.0,671.2 396.7,670.6 393.4,670.1 390.0,670.5 386.8,671.8 383.2,671.3 380.0,672.5 376.6,672.5 373.3,671.9 370.0,671.2 367.5,673.8 365.7,676.7 365.0,680.0 366.9,683.2 368.3,686.7 370.0,690.0 371.8,693.2 373.1,696.8 375.0,700.0 375.3,703.4 374.6,706.7 373.8,710.0 374.5,713.1 376.7,715.6 377.5,718.8 380.3,720.9 382.5,723.8 385.0,720.0 387.7,718.6 390.2,717.0 392.5,715.0 396.0,713.1 400.0,712.5 403.7,713.6 407.5,713.8 411.4,712.9 415.0,711.2 418.2,709.9 421.5,709.0 425.0,708.8 428.2,708.7 431.2,710.3Z" fill="#f0421f"/>
<path d="M400.0,746.2 405.0,747.0 408.7,747.7 412.5,747.5 416.2,746.0 420.0,745.0 423.2,743.8 426.7,743.5 430.0,742.5 433.8,742.4 437.5,741.2 438.8,737.5 437.0,734.9 435.0,732.5 434.5,729.2 433.6,725.9 433.8,722.5 434.6,719.4 434.5,716.3 433.6,713.1 434.5,710.0 431.2,710.3 428.2,708.7 425.0,708.8 421.5,709.0 418.2,709.9 415.0,711.2 411.4,712.9 407.5,713.8 403.7,713.6 400.0,712.5 396.0,713.1 392.5,715.0 390.2,717.0 387.7,718.6 385.0,720.0 382.5,723.8 378.9,725.5 375.5,727.4 372.5,730.0 368.9,732.0 366.2,735.0 369.2,737.8 372.5,740.0 375.5,742.3 377.5,745.5 381.5,744.6 385.0,742.5 388.7,743.4 392.5,743.8 396.1,745.6Z" fill="#fd8d3c"/>
<path d="M565.0,616.2 561.7,616.9 558.3,616.4 555.0,617.0 551.7,616.1 548.4,615.5 545.0,615.0 542.3,613.0 539.0,612.3 536.2,610.5 533.1,609.3 530.0,608.0 525.0,611.2 521.1,609.4 517.0,608.0 518.0,611.2 519.2,614.3 520.0,617.5 521.3,620.5 523.6,623.0 524.5,626.2 524.1,629.3 524.0,632.4 523.8,635.5 526.8,636.2 529.6,637.6 532.5,638.8 535.7,640.7 539.0,642.4 542.5,643.8 545.8,645.1 549.1,646.4 552.5,647.5 556.0,647.7 559.0,649.7 562.5,650.0 565.8,649.1 569.1,648.1 572.5,647.5 569.6,645.4 567.5,642.5 565.1,639.0 563.8,635.0 564.0,631.6 563.3,628.3 562.5,625.0 563.5,622.1 564.2,619.2Z" fill="#ffe996"/>
<path d="M256.2,706.2 257.9,709.1 260.5,711.2 262.5,713.8 265.6,715.8 269.3,716.9 272.5,718.8 275.8,719.4 279.1,720.3 282.5,720.0 285.9,719.9 289.1,721.3 292.5,721.2 295.4,719.0 298.8,717.5 301.1,715.4 302.5,712.5 304.4,709.0 305.0,705.0 303.8,701.2 302.5,697.5 300.4,693.9 298.8,690.0 300.0,686.2 301.2,682.5 302.8,679.7 303.8,676.7 305.0,673.8 300.0,675.0 296.6,675.1 293.4,676.4 290.0,676.2 286.7,674.6 283.6,672.5 280.0,671.2 277.3,672.7 274.3,673.3 271.2,673.8 270.1,676.9 268.8,680.0 266.6,683.1 265.5,686.7 263.8,690.0 261.5,693.1 259.9,696.4 258.8,700.0 257.2,703.0Z" fill="#e0050f"/>
<path d="M317.5,707.5 319.9,709.3 322.9,710.3 325.0,712.5 328.4,713.9 331.6,715.9 335.0,717.5 337.2,719.8 340.3,720.9 342.2,723.6 345.0,725.0 347.6,726.8 350.0,728.8 353.3,727.9 356.7,728.9 360.0,728.0 362.1,730.3 364.3,732.6 366.2,735.0 368.9,732.0 372.5,730.0 375.5,727.4 378.9,725.5 382.5,723.8 380.3,720.9 377.5,718.8 376.7,715.6 374.5,713.1 373.8,710.0 374.6,706.7 375.3,703.4 375.0,700.0 373.1,696.8 371.8,693.2 370.0,690.0 368.3,686.7 366.9,683.2 365.0,680.0 362.5,682.5 359.0,682.7 355.9,684.6 352.5,685.0 349.3,683.9 345.8,684.4 342.5,683.8 338.8,685.3 336.1,688.3 332.5,690.0 329.9,691.8 327.6,693.9 324.8,695.4 322.5,697.5 321.3,701.0 318.6,703.9Z" fill="#e0050f"/>
<path d="M367.1,266.7 363.0,267.0 359.2,268.5 359.6,274.2 360.0,278.3 360.0,278.3 361.0,281.3 362.2,284.3 362.5,287.5 364.0,290.7 365.4,293.9 365.8,297.5 367.7,300.6 369.9,303.5 371.7,306.7 373.9,309.4 376.6,311.7 379.2,314.2 380.0,310.3 381.7,306.7 383.3,303.3 385.8,298.3 387.5,295.0 391.7,290.8 394.6,289.3 393.2,286.7 391.7,281.7 391.6,278.3 392.5,275.0 389.6,273.8 386.7,272.7 383.4,272.1 380.4,270.7 377.5,269.3 373.4,268.4 369.2,267.9Z" fill="#fd8d3c"/>
<path d="M400.0,276.0 396.3,275.0 392.5,275.0 391.6,278.3 391.7,281.7 393.2,286.7 394.6,289.3 400.0,291.7 398.3,286.4 397.9,286.5 396.0,285.4 395.4,283.3 396.2,281.0 398.3,280.2 398.7,280.3Z" fill="#ffe996"/>
<path d="M411.8,273.3 408.3,274.3 404.0,274.6 400.0,276.0 400.0,276.0 398.7,280.3 400.4,281.2 401.0,283.3 400.8,283.7 404.6,283.7 408.3,284.3 412.0,285.0 412.1,283.3 412.3,280.0 411.5,276.7Z" fill="#feca60"/>
<path d="M411.8,293.3 411.9,289.2 412.0,285.0 408.3,284.3 404.6,283.7 400.8,283.7 400.0,285.7 398.3,286.4 400.0,291.7 400.0,291.7 403.4,292.3 406.7,293.5Z" fill="#ffe996"/>
<path d="M398.7,280.3 398.3,280.2 396.2,281.0 395.4,283.3 396.0,285.4 397.9,286.5 398.3,286.4 400.0,285.7 400.8,283.7 401.0,283.3 400.4,281.2Z" fill="#ffe996"/>
<path d="M528.0,601.0 532.0,599.8 534.5,602.5 533.5,605.8 530.0,607.0 527.5,604.5Z" fill="#fff4d0" stroke-width="1.6"/>
<path d="M725.6,349.6 731.1,348.9 735.0,350.5 738.9,352.2 741.7,353.9 744.8,354.4 747.8,355.6 750.1,357.7 752.0,360.3 754.4,362.2 757.4,364.1 759.5,366.8 762.2,368.9 766.2,371.0 770.0,373.3 772.2,377.0 773.3,381.1 772.2,384.4 771.2,387.8 770.0,391.1 767.9,395.0 765.6,398.9 764.6,402.1 762.9,405.0 761.1,407.8 759.4,411.9 756.7,415.6 753.8,418.8 751.1,422.2 745.6,424.4 740.0,422.2 736.7,421.7 733.3,421.1 730.5,422.6 727.8,424.4 724.4,423.9 721.1,423.3 717.9,421.8 714.4,421.1 716.3,418.0 718.9,415.6 720.8,411.8 722.2,407.8 722.7,403.3 723.3,398.9 722.9,395.9 721.8,393.0 721.1,390.0 719.3,387.2 718.6,383.8 716.7,381.1 716.8,378.0 715.9,375.1 715.1,372.2 716.2,369.3 717.1,366.4 717.8,363.3 720.4,359.7 722.2,355.6 724.3,352.8Z" fill="#fde78c"/>
<path d="M726.7,438.4 731.1,438.6 735.6,438.9 739.2,440.2 742.9,440.8 746.7,441.1 750.5,443.5 754.4,445.6 756.2,448.4 757.6,451.4 758.9,454.4 760.3,457.4 761.7,460.3 763.4,463.1 765.6,465.6 768.6,468.1 770.3,471.9 773.3,474.4 772.5,478.1 771.3,481.7 771.1,485.6 769.8,488.8 769.5,492.2 768.9,495.6 765.3,497.4 762.2,500.0 758.5,499.8 754.8,499.5 751.1,500.0 747.5,498.6 743.6,498.1 740.0,496.7 736.3,495.2 732.8,493.1 728.9,492.2 725.9,491.0 723.4,488.8 720.2,487.7 717.8,485.6 715.6,482.2 712.8,479.4 710.0,476.7 708.7,473.4 707.3,470.1 706.7,466.7 704.8,462.6 702.2,458.9 703.9,456.1 705.6,453.3 708.4,451.7 711.1,450.0 712.2,444.4 716.3,442.5 720.0,440.0 723.4,439.7Z" fill="#fde78c"/>
<path d="M710.0,530.0 715.6,527.8 718.7,529.9 722.2,531.1 726.7,535.1 729.3,535.1 730.7,532.1 731.6,528.9 730.9,525.4 729.3,522.2 732.2,517.8 736.7,516.0 740.4,520.0 741.2,523.3 741.1,526.7 744.3,528.4 746.7,531.1 750.4,533.6 754.4,535.6 757.8,538.2 753.4,539.3 748.9,539.6 745.9,540.3 743.0,541.3 740.0,541.8 736.3,540.3 732.2,540.0 728.9,537.3 728.7,541.0 727.8,544.4 727.8,547.8 727.3,551.1 726.7,554.4 725.0,558.1 722.2,561.1 716.7,562.2 714.1,559.1 712.2,555.6 711.5,551.8 711.2,548.1 710.0,544.4 709.3,541.5 708.7,538.6 708.4,535.6Z" fill="#fde78c"/>
<path d="M746.7,562.2 750.0,559.1 754.4,559.6 757.1,563.3 756.0,567.8 752.2,570.0 747.8,568.4 747.4,565.3Z" fill="#fde78c" stroke-width="1.6"/>
<path d="M764.4,533.3 771.8,529.6 772.4,530.7 765.1,534.7Z" fill="#2e2210" stroke-width="0.7"/>
<path d="M720.0,570.7 726.7,568.9 726.9,570.2 720.4,572.2Z" fill="#2e2210" stroke-width="0.7"/>
<path d="M716.7,594.4 720.1,593.1 723.3,591.1 727.2,592.1 731.1,592.9 733.8,595.0 737.3,595.7 740.0,597.8 743.4,600.5 746.7,603.3 749.6,606.0 752.2,608.9 755.3,608.1 757.8,606.2 762.7,607.1 759.4,608.8 756.7,611.1 755.6,615.6 761.1,616.7 759.6,621.1 762.5,622.8 765.6,624.4 764.4,628.9 766.4,631.4 768.9,633.3 770.0,636.2 770.8,639.2 771.1,642.2 770.8,646.7 771.6,651.1 770.6,654.6 768.9,657.8 764.4,661.1 762.4,658.5 761.1,655.6 758.3,653.4 755.6,651.1 752.6,650.3 749.7,649.4 746.7,648.9 743.1,650.1 740.0,652.2 736.8,650.5 734.4,647.8 733.3,642.2 736.8,640.9 740.0,638.9 742.6,637.1 744.4,634.4 741.9,631.9 738.9,630.0 735.1,628.1 731.1,626.7 729.4,624.0 726.5,622.4 724.4,620.0 721.9,616.9 720.0,613.3 720.4,610.0 719.6,606.7 717.6,603.8 715.6,601.1 716.4,597.8Z" fill="#fde78c"/>
<path d="M764.2,686.7 768.3,686.3 770.8,691.7 771.0,695.9 771.7,700.0 772.9,704.1 773.0,708.3 773.8,712.7 775.8,716.7 777.3,720.8 778.3,725.0 778.8,729.2 780.0,733.3 780.0,737.5 780.8,741.7 780.1,745.8 780.0,750.0 779.2,753.5 777.5,756.7 776.3,760.2 774.2,763.3 771.7,768.7 766.7,769.2 766.0,766.0 764.2,763.3 761.7,758.3 758.9,756.1 756.7,753.3 754.2,751.2 752.5,748.3 748.3,744.2 746.0,742.2 743.3,740.8 740.6,739.2 737.5,738.3 734.7,737.2 731.7,736.7 726.7,735.8 727.5,732.8 729.2,730.0 731.4,726.9 732.5,723.3 735.7,721.2 738.3,718.3 741.3,715.7 745.0,714.2 748.0,711.5 751.7,710.0 756.7,707.5 761.7,710.0 763.7,705.0 763.8,700.8 764.2,696.7 763.0,693.4 763.0,690.0Z" fill="#feca60"/>
<path d="M726.7,735.8 731.7,736.7 734.7,737.2 737.5,738.3 740.6,739.2 743.3,740.8 746.0,742.2 748.3,744.2 752.5,748.3 754.2,751.2 756.7,753.3 758.9,756.1 761.7,758.3 764.2,763.3 766.0,766.0 766.7,769.2 771.7,768.7 772.5,770.0 773.3,773.3 773.3,776.7 772.9,780.8 772.5,785.0 772.2,788.5 770.8,791.7 768.3,796.7 769.2,802.5 766.7,805.0 763.7,803.4 760.8,801.7 757.7,799.9 755.0,797.5 751.7,795.7 748.3,794.2 745.1,792.3 741.7,790.8 744.2,786.7 741.7,781.7 738.3,781.1 735.0,780.0 735.8,775.8 737.1,773.0 739.2,770.8 735.8,770.8 732.5,770.0 730.8,766.7 733.1,764.6 735.7,763.1 738.3,761.7 736.1,759.5 733.3,758.3 735.0,753.3 732.0,752.3 729.2,750.8 726.7,745.8 729.2,741.7 725.0,738.3Z" fill="#e0050f"/>
<path d="M44.4,291.3 47.3,290.3 50.0,292.0 49.3,294.3 46.0,294.3Z" fill="#2e2210" stroke-width="0.7"/>
<path d="M49.7,293.7 50.4,293.2 59.1,300.9 58.4,301.7Z" fill="#2e2210" stroke-width="0.7"/>
<path d="M54.0,322.7 56.0,322.7 56.0,324.4 54.0,324.4Z" fill="#2e2210" stroke-width="0.7"/>
<path d="M93.3,346.0 95.1,346.0 95.1,347.6 93.3,347.6Z" fill="#2e2210" stroke-width="0.7"/>
<path d="M93.7,349.7 96.1,349.7 96.1,351.3 93.7,351.3Z" fill="#2e2210" stroke-width="0.7"/>
<path d="M116.4,356.4 119.1,356.0 122.3,358.3 121.3,360.0 117.3,358.7Z" fill="#2e2210" stroke-width="0.7"/>
<path d="M128.0,376.7 131.3,377.3 135.3,381.3 137.3,384.0 134.0,384.9 130.0,383.3 127.6,380.0Z" fill="#ffe996" stroke-width="1.6"/>
<path d="M140.0,376.0 142.7,376.0 142.7,377.7 140.0,377.7Z" fill="#2e2210" stroke-width="0.7"/>
<path d="M144.0,380.0 146.7,380.0 146.7,381.7 144.0,381.7Z" fill="#2e2210" stroke-width="0.7"/>
<path d="M133.3,366.0 134.9,365.7 137.3,371.3 136.0,372.0Z" fill="#2e2210" stroke-width="0.7"/>
<path d="M145.3,362.0 150.0,360.9 155.3,363.3 154.7,367.3 149.3,368.0 146.0,366.0Z" fill="#2e2210" stroke-width="0.7"/>
<path d="M124.0,348.7 126.7,348.0 129.3,352.7 127.3,353.7Z" fill="#2e2210" stroke-width="0.7"/>
<path d="M205.0,463.0 210.0,462.5 220.0,466.2 219.5,468.0 210.0,465.5 205.5,465.0Z" fill="#2e2210" stroke-width="0.7"/>
<path d="M211.2,478.0 215.0,477.5 217.9,480.3 220.0,483.8 221.4,486.8 222.0,490.0 219.5,491.2 217.7,488.3 215.0,486.2 213.3,483.7 212.8,480.6Z" fill="#e0050f" stroke-width="1.6"/>
<path d="M174.5,405.0 177.5,405.0 178.0,411.2 175.5,411.2Z" fill="#2e2210" stroke-width="0.7"/>
<path d="M166.2,426.2 170.5,426.2 171.2,430.0 167.0,430.0Z" fill="#2e2210" stroke-width="0.7"/>
<path d="M216.5,572.0 220.0,572.0 223.8,573.8 223.0,578.0 218.0,579.0 215.8,577.0Z" fill="#ffffff" stroke-width="1.6"/>
<path d="M594.0,695.0 599.5,696.0 599.2,697.5 593.8,696.8Z" fill="#2e2210" stroke-width="0.7"/>
<path d="M605.5,695.5 614.0,693.0 614.5,694.5 606.0,697.0Z" fill="#2e2210" stroke-width="0.7"/>
</g>
<g id="legend">
<text class="lt" x="885" y="573.3" textLength="222" lengthAdjust="spacingAndGlyphs">En euros par habitant</text>
<rect x="880" y="608.5" width="34" height="17.5" fill="#ffe996" stroke="#33280f" stroke-width="2"/>
<rect x="880" y="655" width="34" height="17.5" fill="#feca60" stroke="#33280f" stroke-width="2"/>
<rect x="880" y="701.5" width="34" height="17.5" fill="#fd8d3c" stroke="#33280f" stroke-width="2"/>
<rect x="880" y="748" width="34" height="17.5" fill="#f0421f" stroke="#33280f" stroke-width="2"/>
<rect x="880" y="794.5" width="34" height="17.5" fill="#dc0510" stroke="#33280f" stroke-width="2"/>
<text class="lg" x="937.3" y="622.8" textLength="239" lengthAdjust="spacingAndGlyphs">de 40,6 (inclus) à 91,9 (exclu)</text>
<text class="lg" x="937.3" y="669.3" textLength="250" lengthAdjust="spacingAndGlyphs">de 91,9 (inclus) à 104,6 (exclu)</text>
<text class="lg" x="937.3" y="715.8" textLength="261" lengthAdjust="spacingAndGlyphs">de 104,6 (inclus) à 116,3 (exclu)</text>
<text class="lg" x="937.3" y="762.3" textLength="261" lengthAdjust="spacingAndGlyphs">de 116,3 (inclus) à 128,7 (exclu)</text>
<text class="lg" x="937.3" y="808.8" textLength="264" lengthAdjust="spacingAndGlyphs">de 128,7 (inclus) à 164,5 (inclus)</text>
</g>
</svg>
</body></html>
